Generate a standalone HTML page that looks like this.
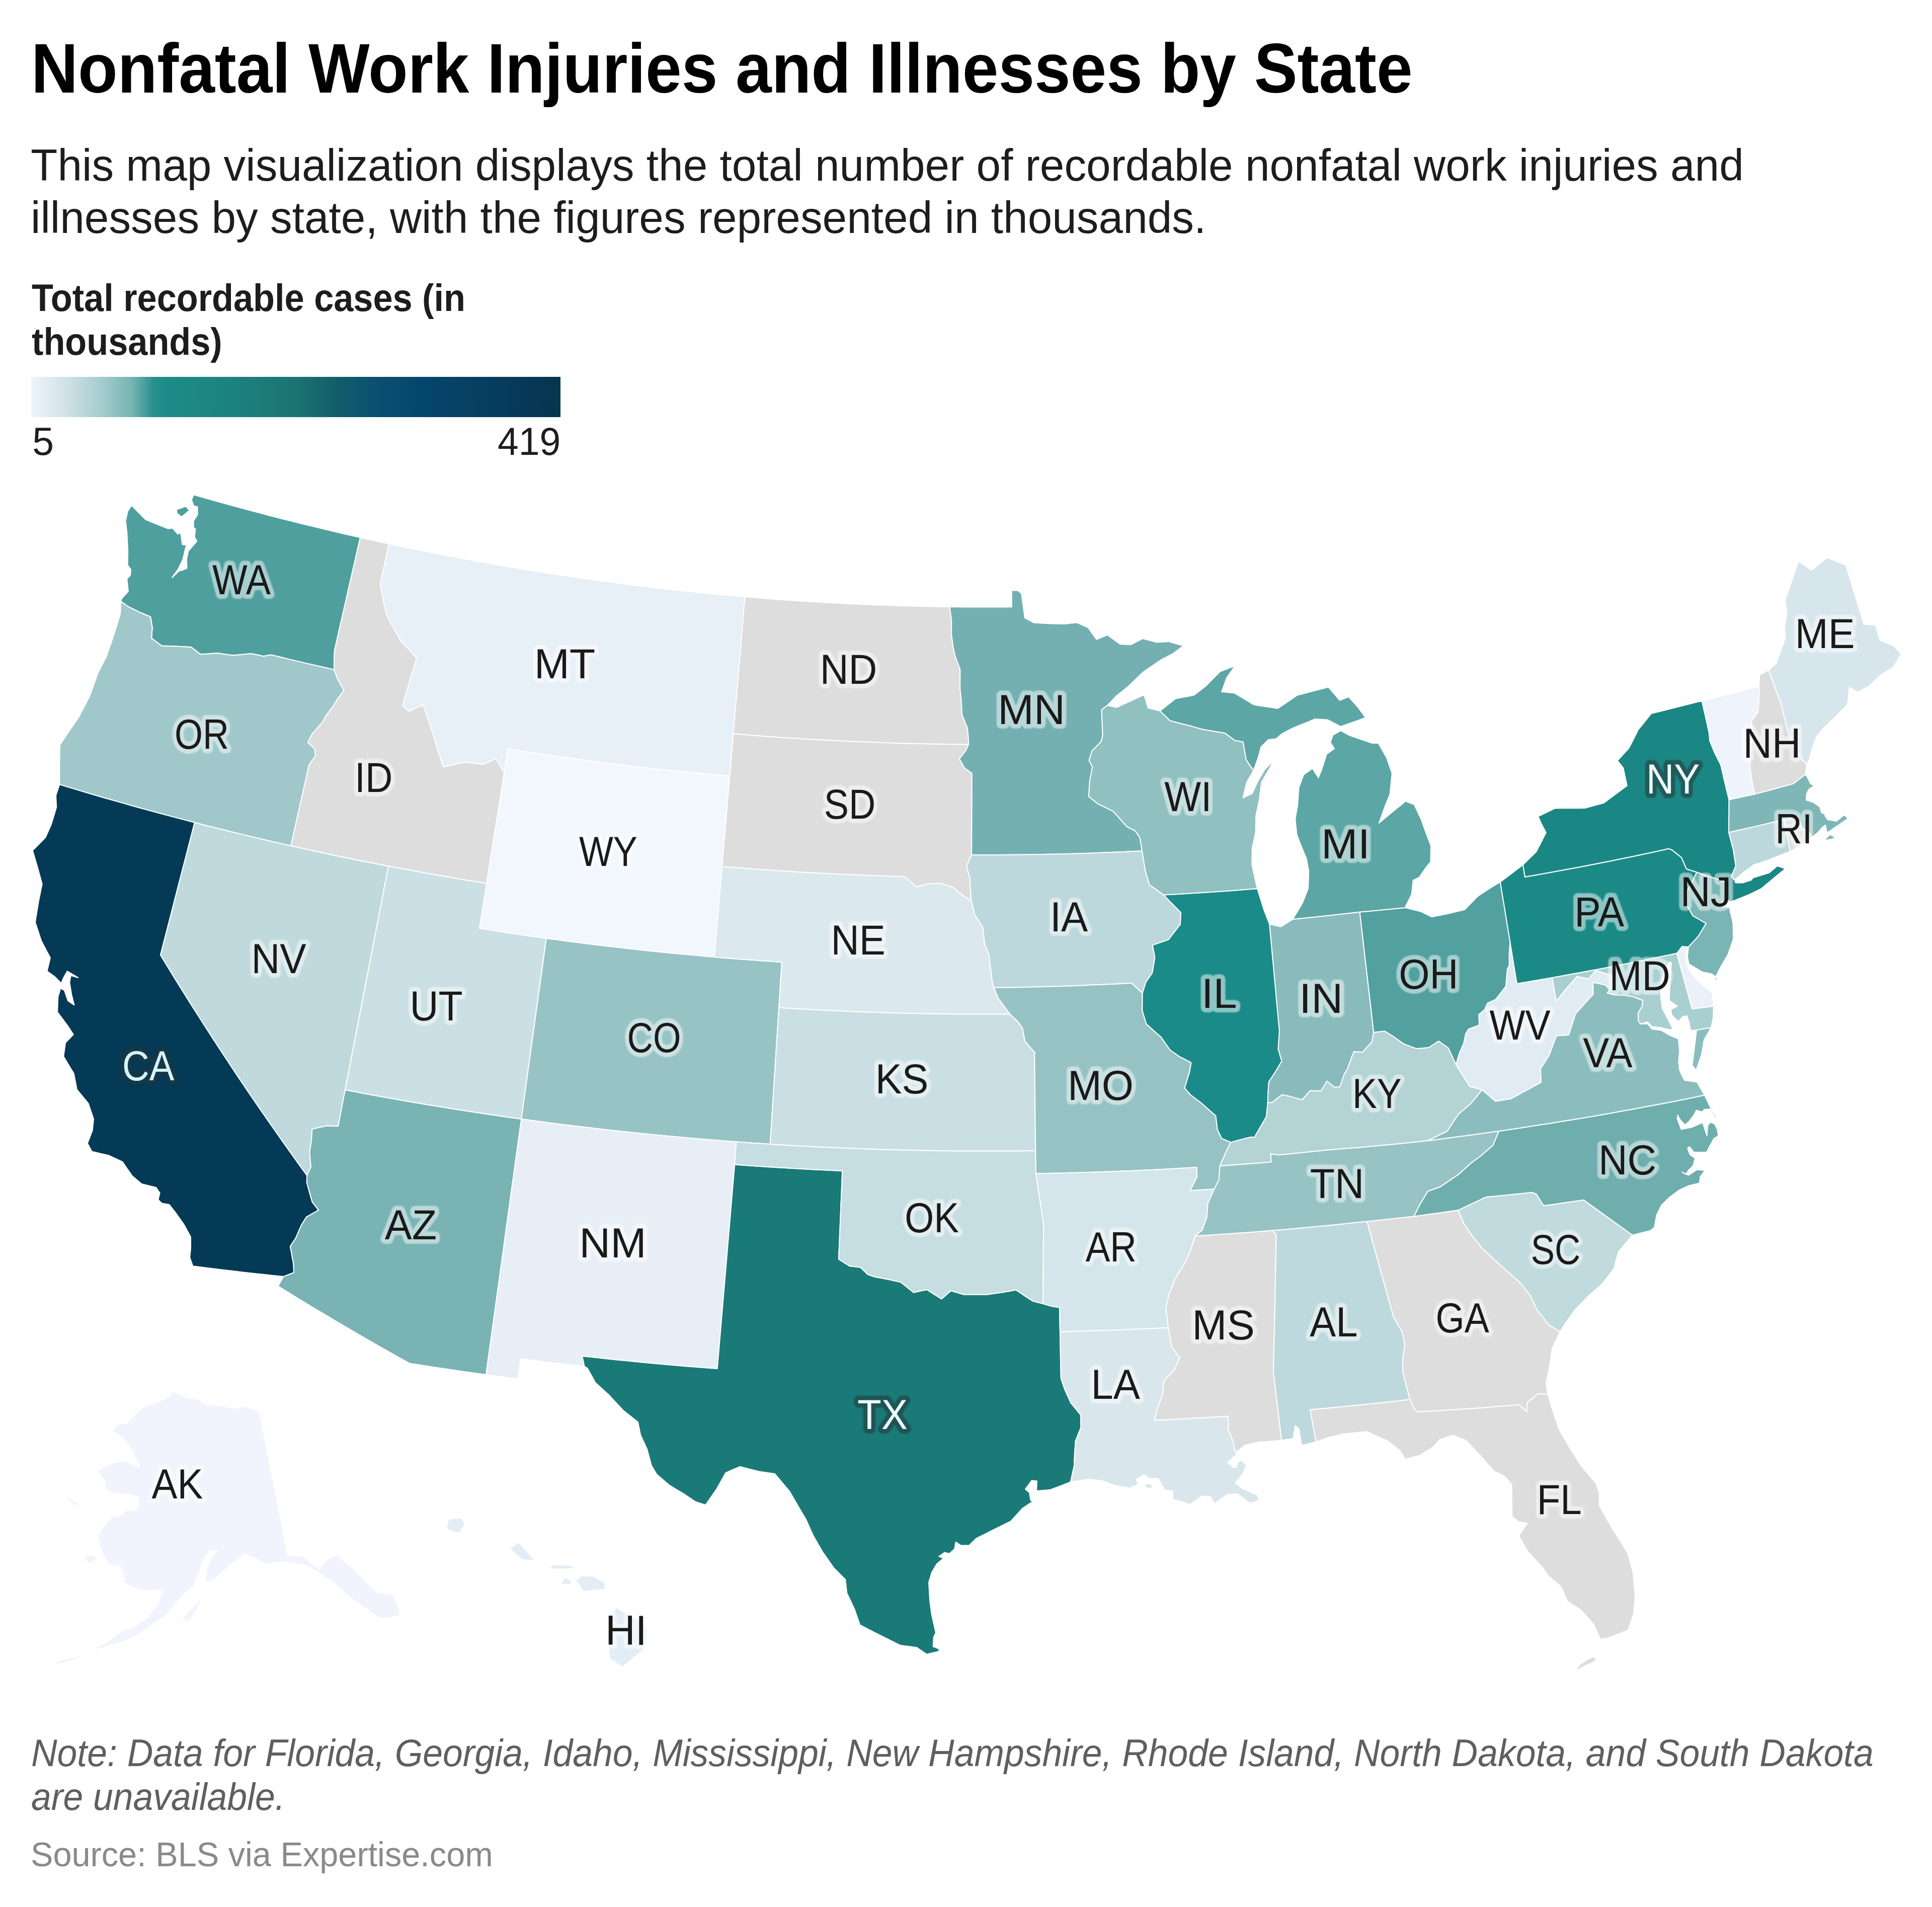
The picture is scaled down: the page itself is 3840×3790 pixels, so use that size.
<!DOCTYPE html>
<html><head><meta charset="utf-8"><title>Nonfatal Work Injuries and Illnesses by State</title>
<style>
html,body{margin:0;padding:0;background:#fff;}
body{width:3840px;height:3790px;position:relative;overflow:hidden;font-family:"Liberation Sans",Arial,sans-serif;}
.t{position:absolute;white-space:nowrap;transform-origin:0 0;}
#title{left:61.6px;top:67.4px;font-weight:bold;font-size:139.6px;color:#000;line-height:1;transform:scaleX(0.9225);}
#desc{left:61.4px;top:275.5px;font-size:89px;color:#1d1d1d;line-height:104.8px;transform:scaleX(0.9818);}
#ltitle{left:62.5px;top:548.7px;font-weight:bold;font-size:75.4px;color:#1d1d1d;line-height:87px;transform:scaleX(0.9323);}
#bar{position:absolute;left:62px;top:749px;width:1052px;height:80px;
 background:linear-gradient(90deg,#eff3fd 0%,#d2e4e9 6%,#a7cdce 13%,#75b5b3 19%,#2a918d 23%,#1d8c88 25%,#1d8480 36%,#1b7471 50%,#135f6b 57%,#0b5070 65%,#05466c 74%,#063e60 86%,#06344f 100%);}
#l5{left:64.3px;top:839px;font-size:77px;color:#1d1d1d;line-height:1;}
#l419{left:988.8px;top:839px;font-size:77px;color:#1d1d1d;line-height:1;transform:scaleX(0.975);}
#note{left:62.2px;top:3441.2px;font-style:italic;font-size:76.1px;color:#5f5f5f;line-height:86.5px;transform:scaleX(0.939);}
#source{left:61.4px;top:3650.7px;font-size:69px;color:#8a8a8a;line-height:1;transform:scaleX(0.966);}
svg{position:absolute;left:0;top:0;}
svg text{font-family:"Liberation Sans",Arial,sans-serif;font-size:83px;text-anchor:middle;}
.halo text{stroke-width:18px;stroke-linejoin:round;}
</style></head><body>
<div class="t" id="title">Nonfatal Work Injuries and Illnesses by State</div>
<div class="t" id="desc">This map visualization displays the total number of recordable nonfatal work injuries and<br>illnesses by state, with the figures represented in thousands.</div>
<div class="t" id="ltitle">Total recordable cases (in<br>thousands)</div>
<div id="bar"></div>
<div class="t" id="l5">5</div>
<div class="t" id="l419">419</div>
<svg width="3840" height="3790" viewBox="0 0 3840 3790">
<g stroke="#fff" stroke-width="2" stroke-linejoin="round">
<path fill="#f1f4fd" d="M515.1,2803.8 511.8,2802.8 508.5,2801.9 505.2,2800.9 501.9,2800 498.6,2799 495.4,2798 492.1,2797 488.9,2795.9 485.6,2794.9 482.5,2795.7 479.3,2796.5 476.1,2797.3 472.9,2798.1 469.7,2798.8 466.3,2798.3 463,2797.8 459.6,2797.3 456.3,2796.8 452.9,2796.2 449.6,2795.7 446.3,2795.1 443,2794.5 439.7,2793.9 436.3,2793.3 433.3,2793 430.3,2792.8 427.3,2792.5 424.3,2792.2 421.3,2791.9 418.3,2791.6 415.2,2791.3 412.2,2790.9 409.2,2790.6 405.9,2788.6 402.6,2786.6 399.4,2784.6 396.1,2782.5 392.9,2780.5 389.9,2780.1 386.8,2779.8 383.8,2779.4 380.8,2779 377.8,2778.6 374.8,2778.2 371.8,2777.7 368.8,2776.4 365.8,2775 362.8,2773.6 359.8,2772.2 356.8,2770.7 353.8,2769.3 350.9,2767.9 348,2766.4 345,2764.9 342,2767.9 339,2770.8 335.9,2773.7 332.8,2776.6 329.7,2779.5 326.6,2780.9 323.5,2782.2 320.3,2783.5 317.2,2784.8 314,2786.1 310.9,2787.4 307.7,2788.7 304.5,2789.7 301.4,2790.7 298.2,2791.7 295,2792.7 291.8,2793.7 288.5,2794.7 285.3,2795.6 282.3,2798 279.2,2800.3 276.2,2802.6 273.1,2804.9 269.1,2809.7 265,2814.4 260.9,2819.2 256.8,2823.9 252.6,2828.5 249.3,2828.8 246,2829 242.7,2829.2 239.3,2829.5 236,2829.6 232.7,2829.8 229.5,2834.5 226.2,2839.2 222.9,2843.8 225.6,2845.7 228.4,2847.6 231.1,2849.4 233.8,2851.3 236.6,2853.1 239.3,2855 242.1,2856.8 245.2,2860 248.3,2863.3 251.4,2866.6 254.6,2869.8 257,2874.6 259.5,2879.3 262.1,2884.1 264.6,2888.9 267.2,2893.6 269.7,2898.7 272.2,2903.7 274.7,2909.5 277.2,2915.3 273.8,2914 270.5,2912.6 267.2,2911.2 263.9,2909.8 260.6,2908.3 257.3,2906.9 254,2905.5 250.7,2904 247.4,2904 244,2904 240.6,2904 236.6,2905 232.6,2905.9 228.6,2906.8 224.6,2907.7 220.6,2908.6 216.5,2910.8 212.4,2912.9 208.3,2915.1 204.1,2917.3 199.9,2919.4 195.7,2921.5 191.5,2923.6 194.7,2927.1 198,2930.7 201.3,2934.2 204.6,2937.8 207.9,2941.3 208.9,2947.9 210,2954.5 211,2961.1 214.8,2962.9 218.6,2964.8 222.4,2966.7 226.2,2968.5 229.7,2968.6 233.2,2968.7 236.7,2968.8 240.2,2968.9 243.7,2968.9 247.2,2969 250.7,2969 254.1,2969.9 257.5,2970.8 260.9,2971.7 264.3,2972.5 267.7,2973.4 271.1,2974.2 274.5,2975.1 275.1,2982.3 275.7,2989.4 273,2995.5 270.2,3001.5 266.6,3001.4 262.9,3001.3 259.3,3001.2 255.7,3001.1 252,3000.9 248.4,3004 244.8,3007.1 241.2,3010.2 237.5,3013.2 233.9,3013.5 230.3,3013.8 226.7,3014 223,3014.2 218.3,3019.3 213.6,3024.4 208.9,3029.4 204.2,3036.6 199.4,3043.8 194.6,3050.9 195.7,3058.6 196.9,3066.3 198.1,3074 200.8,3080.9 203.5,3087.7 206.5,3093 209.6,3098.3 212.7,3103.6 215.9,3108.9 220.5,3109.9 225.1,3110.9 229.7,3111.8 234.3,3112.8 238.9,3113.7 241.9,3121.2 245,3128.7 245.6,3136.8 246.3,3144.8 250.2,3147.2 254.2,3149.5 258.2,3151.8 262.2,3154.2 266.2,3156.5 271,3157.6 275.8,3158.6 280.6,3159.7 285.5,3160.7 290.3,3161.7 294.4,3161.2 298.5,3160.7 302.7,3160.2 306.8,3159.7 310.8,3159.9 314.9,3160.1 319,3160.3 323,3160.5 320.6,3167.5 318.3,3174.5 315.8,3181.5 313.4,3188.5 308.9,3194.5 304.3,3200.6 299.7,3206.6 295,3212.6 289.6,3216.7 284.1,3220.7 278.6,3224.7 273.1,3228.6 267.5,3232.5 262.1,3234.6 256.6,3236.6 251.1,3238.5 245.6,3240.5 240.1,3242.4 234.3,3246.8 228.4,3251.2 222.5,3255.5 216.5,3259.8 210.5,3264.1 204.9,3267 199.4,3269.9 193.7,3272.8 188.1,3275.6 182.4,3278.4 176.7,3281.2 182.2,3280 187.6,3278.7 193,3277.4 198.4,3276.1 203.8,3274.8 209.2,3273.4 214.6,3271.9 220.1,3270.3 225.4,3268.7 230.8,3267.1 236.2,3265.5 241.5,3263.8 246.9,3262.1 252.5,3259.5 258.1,3256.9 263.7,3254.3 269.3,3251.7 274.9,3249 280.5,3245 286.1,3241 291.6,3237 297.1,3232.9 302.6,3228.9 308,3225.4 313.4,3221.9 318.7,3218.4 324,3214.8 329.2,3211.3 333.7,3205.9 338.1,3200.5 342.4,3195.1 346.8,3189.7 351.2,3184.8 355.6,3179.8 360,3174.8 364.3,3169.8 368.6,3164.8 372.6,3161.6 376.7,3158.5 380.7,3155.3 384.7,3152.1 388.4,3143.6 391.9,3135.2 395.4,3126.7 397.9,3119.2 400.3,3111.8 402.6,3104.4 406.3,3098.7 409.9,3093.1 413.5,3087.4 417.1,3081.7 420.8,3081.6 424.6,3081.4 428.4,3081.2 432.1,3080.9 428.6,3085.1 425,3089.3 421.4,3093.4 417.8,3097.5 415.5,3105 413.3,3112.4 410.9,3119.9 409.7,3128.4 408.4,3136.8 407.1,3145.3 411.2,3143.9 415.3,3142.4 419.4,3141 423.5,3139.6 427.6,3138.1 431.4,3134.7 435.2,3131.3 438.9,3127.9 442.6,3124.5 446.3,3121.1 450,3117.7 453.7,3114.2 457.3,3110.8 461,3108.1 464.6,3105.4 468.3,3102.7 471.9,3099.9 475.5,3097.2 479,3094.5 482.6,3091.7 486.1,3088.9 491,3090.9 495.9,3092.9 500.7,3094.8 505.6,3096.7 510.6,3098.6 514.8,3101.2 519.1,3103.8 523.4,3106.3 527.8,3108.9 532.2,3108.2 536.6,3107.5 541,3106.8 545.4,3106 549.8,3105.3 554.3,3104.5 558.7,3103.7 563.6,3104.4 568.5,3105.1 573.4,3105.7 578.3,3106.3 583.3,3106.9 587.4,3107.3 591.5,3107.6 595.6,3108 599.7,3108.3 605.2,3110.9 610.7,3113.5 616.3,3116.1 621.8,3118.7 627.4,3121.2 633.5,3125.6 639.6,3129.9 645.8,3134.2 652,3138.4 658.2,3142.6 663.9,3147.6 669.6,3152.6 675.3,3157.5 681.1,3162.4 686.9,3167.3 692.8,3172.1 698.7,3177 704.7,3181.7 710.4,3185.7 716.2,3189.7 722,3193.7 727.9,3197.6 734,3202.2 740.2,3206.8 746.4,3211.4 752.7,3216 757.4,3216 762.2,3216 767,3216 771.8,3216 777.2,3214.9 782.6,3213.8 788,3212.7 793.3,3211.6 794.2,3206.2 795.1,3200.8 791.6,3192.9 788.2,3185 784.7,3177 781.2,3169.1 775.7,3168.4 770.1,3167.6 764.6,3166.8 759.1,3166 753.6,3165.2 748.1,3164.3 740.7,3156.9 733.3,3149.4 726,3141.9 718.8,3134.3 711.7,3126.7 704.6,3119.1 698.5,3114.4 692.5,3109.7 686.5,3104.9 680.5,3100.1 674.6,3095.3 668.8,3090.5 664.4,3092.4 660,3094.3 655.6,3096.2 651.2,3098.1 646.7,3100 643.9,3104.8 641,3109.6 638.2,3114.5 635.2,3119.3 629,3114.3 622.8,3109.4 616.7,3104.3 610.7,3099.3 605.8,3095.6 600.9,3091.8 596.8,3091.8 592.7,3091.8 588.6,3091.8 584.5,3091.7 580.4,3091.7 576.3,3091.6 572.2,3091.5 570.4,3082.4 568.6,3073.4 566.8,3064.4 565,3055.3 563.2,3046.3 561.4,3037.2 559.6,3028.2 557.9,3019.2 556.1,3010.1 554.3,3001.1 552.5,2992.1 550.7,2983 548.9,2974 547.1,2965 545.3,2956 543.5,2947 541.8,2938 540,2929 538.2,2920 536.4,2911 534.6,2902 532.8,2893 531.1,2884.1 529.3,2875.1 527.5,2866.1 525.7,2857.2 524,2848.3 522.2,2839.3 520.4,2830.4 518.7,2821.5 516.9,2812.6 515.1,2803.8ZM401.4,3173.8 397.7,3178.1 393.9,3182.4 390.1,3186.7 385.6,3191.5 381.1,3196.3 376.5,3201 371.8,3205.8 367.8,3210 363.9,3214.1 359.8,3218.3 365,3219.4 370.1,3220.5 375.2,3221.5 379.5,3216 383.7,3210.4 387.9,3204.9 392,3199.3 395.2,3190.8 398.4,3182.3 401.4,3173.8ZM176.7,3281.2 171.5,3283.6 166.3,3285.9 161,3288.2 155.8,3290.4 150.5,3292.6 144.5,3294.1 138.6,3295.5 132.6,3296.9 126.6,3298.3 120.6,3299.6 115.2,3301.7 109.8,3303.7 104.3,3305.8 98.8,3307.8 93.3,3309.8 98.6,3309 103.8,3308.2 109,3307.4 114.2,3306.6 119.4,3305.8 125.4,3304.4 131.4,3303.1 137.4,3301.7 143.4,3300.3 149.3,3298.8 154.9,3295.3 160.4,3291.9 165.9,3288.3 171.3,3284.8 176.7,3281.2ZM193.8,3098.9 190.6,3096.2 187.4,3093.4 184.2,3090.7 180.3,3091.3 176.4,3091.8 172.5,3092.3 168.6,3092.9 164.7,3093.4 167.5,3097.1 170.4,3100.9 173.2,3104.7 176.1,3108.5 180.5,3106.1 185,3103.7 189.4,3101.3 193.8,3098.9ZM164.3,2996.5 160.7,2993.2 157.2,2990 153.6,2986.7 150.1,2983.4 146.8,2981.7 143.5,2979.9 140.3,2978.2 137,2976.4 133.8,2974.6 130.6,2972.8 127.4,2971 130.2,2974.4 133.1,2977.8 135.9,2981.1 138.8,2984.5 141.7,2987.8 145.5,2989.3 149.2,2990.8 153,2992.2 156.8,2993.7 160.6,2995.1 164.3,2996.5Z"/>
<path fill="#e3edf5" d="M1287.7,3240.1 1283.6,3259.4 1279.5,3278.7 1258.3,3295.8 1237.2,3313 1224.4,3305 1211.6,3297 1209.4,3274.6 1207.2,3252.2 1211.3,3232 1215.5,3211.9 1223.8,3194 1247.2,3207.3 1270.6,3220.5 1287.7,3240.1ZM1202.6,3158.3 1181.4,3160.6 1160.3,3162.9 1143.4,3140.6 1156,3131.7 1177.1,3131.6 1189.8,3138.3 1202.5,3144.9 1202.6,3158.3ZM1139.2,3118.3 1116,3118.3 1092.8,3118.3 1097,3109.4 1118.1,3110.3 1139.1,3111.2 1139.2,3118.3ZM1063.3,3100.4 1038,3100.3 1025.5,3089.1 1012.9,3077.9 1029.8,3064.6 1050.7,3087 1063.3,3100.4ZM925,3028.3 912.2,3047.8 899.6,3043.2 887.1,3038.6 891.5,3019.1 916.7,3016.7 925,3028.3ZM1135,3149.5 1113.9,3149.5 1122.3,3134.4 1135,3140.6 1135,3149.5Z"/>
<path fill="#509f9f" d="M385,983.2 401.4,988 417.8,992.6 434.3,997.3 450.7,1001.8 467.2,1006.4 483.7,1010.8 500.2,1015.3 516.8,1019.6 533.3,1024 549.8,1028.2 566.4,1032.5 583,1036.6 599.5,1040.8 616.1,1044.9 632.8,1048.9 649.4,1052.9 666,1056.8 682.7,1060.7 699.3,1064.5 716,1068.3 710.3,1093.1 704.7,1117.9 699,1142.8 693.3,1167.7 687.7,1192.6 682,1217.5 676.3,1242.5 670.6,1267.5 664.9,1292.5 664.2,1312.5 663.9,1330.9 646,1326.8 628.1,1322.7 610.2,1318.6 592.3,1314.4 574.4,1310.1 556.5,1305.8 538.7,1301.4 523.8,1304.2 511.6,1301.6 499.3,1299 481.1,1300.8 462.9,1302.6 447.3,1300.3 431.6,1298.1 415.1,1299.2 398.5,1300.4 389.1,1293.1 379.7,1285.9 365.3,1285.2 350.8,1284.4 336.2,1284 321.6,1283.6 311.4,1276 301.2,1268.4 302.7,1247.4 299.2,1225.8 287.6,1221 276.1,1216.2 264.8,1210.5 253.5,1204.8 240.1,1195.1 241.8,1189.7 254.9,1175.3 252.3,1150.4 258.8,1143.8 260.1,1132 253.6,1122.9 254.2,1095.3 253.2,1076.9 252.3,1058.6 249.7,1035 253.6,1016.7 261.5,1004.2 275.2,1018.3 289,1032.4 300.1,1037 311.3,1041.6 323,1046.2 334.8,1050.8 342.7,1049.5 353.2,1061.3 359.1,1058.6 362.4,1082.2 370.9,1083.5 368.5,1090 363.7,1111.1 354.5,1130.7 342.1,1147.8 355.8,1134.7 363.7,1132.7 371.5,1129.4 370.9,1111.1 374.2,1095.3 391.2,1075.7 386.6,1066.5 388.6,1051.4 384.7,1048.2 384.7,1035 392.5,1023.3 392.5,1007.5 384.7,1004.9 380.7,993.1 385,983.2ZM350.6,1012.8 368.9,1006.2 376.8,1014.1 361.1,1027.2 351.9,1020.6 350.6,1012.8Z"/>
<path fill="#a0c8ca" d="M240.1,1195.1 253.5,1204.8 264.8,1210.5 276.1,1216.2 287.6,1221 299.2,1225.8 302.7,1247.4 301.2,1268.4 311.4,1276 321.6,1283.6 336.2,1284 350.8,1284.4 365.3,1285.2 379.7,1285.9 389.1,1293.1 398.5,1300.4 415.1,1299.2 431.6,1298.1 447.3,1300.3 462.9,1302.6 481.1,1300.8 499.3,1299 511.6,1301.6 523.8,1304.2 538.7,1301.4 556.5,1305.8 574.4,1310.1 592.3,1314.4 610.2,1318.6 628.1,1322.7 646,1326.8 663.9,1330.9 670.4,1347.9 683.7,1372 671.9,1387.8 661.8,1404 648.1,1422.1 640.4,1436 620.2,1459.2 611.8,1475.7 625.5,1488.1 626.9,1502.2 614.2,1520.6 609.1,1543.5 603.9,1566.4 598.8,1589.3 593.6,1612.2 588.5,1635.1 583.3,1658 578.1,1681 559,1676.6 539.8,1672.2 520.6,1667.7 501.5,1663.2 482.3,1658.6 463.2,1654 444.1,1649.3 425,1644.5 405.9,1639.7 386.9,1634.8 368.9,1630.1 350.9,1625.4 332.9,1620.6 314.9,1615.8 297,1610.9 279.1,1606 261.2,1601 243.3,1595.9 225.4,1590.8 207.5,1585.7 189.6,1580.5 171.8,1575.2 154,1569.9 136.2,1564.6 118.4,1559.1 118.4,1535.5 118.4,1511.9 118.8,1495.9 119.3,1480 128.8,1465.9 138.3,1451.8 147.6,1438.2 156.9,1424.5 167.5,1404.2 178.1,1383.8 186.5,1360.5 194.9,1337.2 203.2,1320.9 211.5,1304.6 219.6,1281.2 227.6,1257.9 233.5,1238.5 239.3,1219.2 240.1,1195.1Z"/>
<path fill="#043a55" d="M118.4,1559.1 136.2,1564.6 154,1569.9 171.8,1575.2 189.6,1580.5 207.5,1585.7 225.4,1590.8 243.3,1595.9 261.2,1601 279.1,1606 297,1610.9 314.9,1615.8 332.9,1620.6 350.9,1625.4 368.9,1630.1 386.9,1634.8 380.1,1661.1 373.3,1687.4 366.5,1713.7 359.7,1740 352.9,1766.3 346.1,1792.6 339.4,1818.9 332.6,1845.2 325.8,1871.6 319,1897.9 334,1922.5 349.1,1947.2 364.4,1971.7 379.8,1996.3 395.4,2020.8 411.1,2045.3 426.9,2069.7 442.9,2094.2 459,2118.5 475.2,2142.9 491.6,2167.2 508.1,2191.4 524.8,2215.6 541.6,2239.8 558.5,2264 575.6,2288 592.8,2312.1 610.2,2336.1 609.7,2349.8 615.1,2369.4 620.7,2388.9 633.2,2405.2 608.8,2418.9 598.8,2435.3 587.7,2460.8 576.9,2477.1 580.2,2494.8 583.5,2512.5 584.1,2529.2 563.4,2537.1 543.4,2535 523.3,2532.8 503.3,2530.7 483.3,2528.4 463.3,2526.1 443.3,2523.7 423.3,2521.3 403.3,2518.8 383.3,2516.3 377.2,2499.2 379,2481 378.9,2457.9 365.4,2433.4 356.7,2421.2 348.2,2409 336.4,2394.1 321.8,2391.6 314.4,2384.2 317.6,2371 310.3,2360 296,2356.5 281.6,2353 262.8,2337.1 253,2323 243.3,2308.9 229.7,2302.6 216.2,2296.3 199.3,2292.4 182.5,2288.5 173.9,2272.2 183.7,2246.7 186,2223.9 180.7,2208.4 175.5,2192.9 164.2,2179.1 152.9,2165.3 149.8,2149.4 146.7,2133.5 136.4,2116.5 126.3,2099.6 128.2,2086 130.1,2072.4 145.8,2056.1 135.5,2040.1 124.8,2025.7 114.1,2011.4 114.7,1996.5 115.3,1981.5 120.3,1964.1 127.9,1968.2 135.2,1989.1 147.5,1997.3 142.3,1977 138.3,1952.3 140.7,1938.8 155.5,1943 144.6,1936.6 133.6,1930.2 126,1944.1 121.7,1954.1 108.7,1941 93.6,1930 99.9,1903.5 91,1886.7 82.2,1869.9 76.1,1851.5 70,1833.1 73.2,1812.8 76.5,1792.5 80.1,1774.6 83.7,1756.8 79.4,1741.3 75.2,1725.8 70,1708.1 64.8,1690.4 77.7,1677.3 90.5,1664.2 96.1,1651.7 101.6,1639.2 106.9,1621.9 112.2,1604.5 111.1,1580.6 118.4,1559.1Z"/>
<path fill="#bfd9dd" d="M386.9,1634.8 405.9,1639.7 425,1644.5 444.1,1649.3 463.2,1654 482.3,1658.6 501.5,1663.2 520.6,1667.7 539.8,1672.2 559,1676.6 578.1,1681 597.5,1685.3 616.8,1689.6 636.2,1693.7 655.6,1697.9 675,1702 694.4,1706 713.8,1709.9 733.2,1713.8 752.6,1717.6 772.1,1721.4 767,1747.5 762,1773.7 756.9,1799.8 751.8,1825.9 746.8,1852.1 741.7,1878.3 736.6,1904.4 731.6,1930.6 726.5,1956.8 721.4,1982.9 716.4,2009.1 711.3,2035.3 706.2,2061.5 701.1,2087.7 696.1,2113.8 691,2140 685.9,2166.2 681.3,2190.2 676.7,2214.3 672,2238.3 660.4,2237.9 648.8,2237.5 634.6,2240.7 620.4,2243.9 619.3,2264 615.4,2291 618,2319.2 610.2,2336.1 592.8,2312.1 575.6,2288 558.5,2264 541.6,2239.8 524.8,2215.6 508.1,2191.4 491.6,2167.2 475.2,2142.9 459,2118.5 442.9,2094.2 426.9,2069.7 411.1,2045.3 395.4,2020.8 379.8,1996.3 364.4,1971.7 349.1,1947.2 334,1922.5 319,1897.9 325.8,1871.6 332.6,1845.2 339.4,1818.9 346.1,1792.6 352.9,1766.3 359.7,1740 366.5,1713.7 373.3,1687.4 380.1,1661.1 386.9,1634.8Z"/>
<path fill="#dddddd" d="M716,1068.3 730.2,1071.4 744.5,1074.6 758.8,1077.7 773.1,1080.8 768.8,1101 764.4,1121.2 760.1,1141.4 755.8,1161.6 759.8,1181.6 763.8,1201.6 767.9,1221.6 777.1,1238.4 786.4,1255.2 795.7,1272 806.5,1283.9 817.4,1295.8 828.3,1307.7 820.8,1332.7 813.4,1357.7 805.9,1382.7 800.6,1402.8 813.3,1413.5 827,1407 840.8,1400.5 848.2,1422 855.7,1443.5 864.1,1470.4 872.5,1497.2 881,1524.1 895.7,1520.9 910.3,1517.7 924.9,1514.5 943.3,1516.7 961.7,1518.9 973.7,1513.1 985.6,1507.4 993.9,1521.5 1002.3,1535.6 998.5,1560 994.6,1584.4 990.7,1608.9 986.7,1633.3 982.8,1657.8 978.9,1682.2 975,1706.7 971.1,1731.2 967.2,1755.7 947.6,1752.6 928.1,1749.4 908.6,1746.1 889,1742.7 869.5,1739.3 850,1735.9 830.5,1732.3 811,1728.8 791.5,1725.1 772.1,1721.4 752.6,1717.6 733.2,1713.8 713.8,1709.9 694.4,1706 675,1702 655.6,1697.9 636.2,1693.7 616.8,1689.6 597.5,1685.3 578.1,1681 583.3,1658 588.5,1635.1 593.6,1612.2 598.8,1589.3 603.9,1566.4 609.1,1543.5 614.2,1520.6 626.9,1502.2 625.5,1488.1 611.8,1475.7 620.2,1459.2 640.4,1436 648.1,1422.1 661.8,1404 671.9,1387.8 683.7,1372 670.4,1347.9 663.9,1330.9 664.2,1312.5 664.9,1292.5 670.6,1267.5 676.3,1242.5 682,1217.5 687.7,1192.6 693.3,1167.7 699,1142.8 704.7,1117.9 710.3,1093.1 716,1068.3Z"/>
<path fill="#e7eff7" d="M773.1,1080.8 790.6,1084.5 808.1,1088.2 825.6,1091.8 843.2,1095.3 860.7,1098.8 878.3,1102.3 895.8,1105.7 913.4,1109 931,1112.3 948.6,1115.5 966.2,1118.7 983.9,1121.8 1001.5,1124.8 1019.1,1127.8 1036.8,1130.8 1054.5,1133.7 1072.1,1136.5 1089.8,1139.3 1107.5,1142 1125.2,1144.6 1142.9,1147.3 1160.6,1149.8 1178.3,1152.3 1196,1154.7 1213.8,1157.1 1231.5,1159.5 1249.3,1161.7 1267,1163.9 1284.8,1166.1 1302.6,1168.2 1320.4,1170.3 1338.1,1172.2 1355.9,1174.2 1373.7,1176.1 1391.5,1177.9 1409.3,1179.7 1427.1,1181.4 1445,1183 1462.8,1184.6 1480.6,1186.2 1478.5,1210.8 1476.4,1235.4 1474.3,1260 1472.3,1284.7 1470.2,1309.4 1468.1,1334.2 1466,1358.9 1463.8,1383.7 1461.7,1408.5 1459.6,1433.3 1457.5,1458.2 1455.7,1479.2 1454,1500.2 1452.2,1521.2 1450.4,1542.3 1432,1540.7 1413.5,1539.1 1395.1,1537.3 1376.7,1535.6 1358.3,1533.8 1339.9,1531.9 1321.5,1530 1303.1,1528 1284.7,1525.9 1266.4,1523.8 1248,1521.7 1229.6,1519.5 1211.3,1517.2 1192.9,1514.9 1174.6,1512.5 1156.3,1510 1137.9,1507.5 1119.6,1505 1101.3,1502.4 1083,1499.7 1064.7,1497 1046.4,1494.2 1028.1,1491.4 1009.9,1488.5 1006.1,1512 1002.3,1535.6 993.9,1521.5 985.6,1507.4 973.7,1513.1 961.7,1518.9 943.3,1516.7 924.9,1514.5 910.3,1517.7 895.7,1520.9 881,1524.1 872.5,1497.2 864.1,1470.4 855.7,1443.5 848.2,1422 840.8,1400.5 827,1407 813.3,1413.5 800.6,1402.8 805.9,1382.7 813.4,1357.7 820.8,1332.7 828.3,1307.7 817.4,1295.8 806.5,1283.9 795.7,1272 786.4,1255.2 777.1,1238.4 767.9,1221.6 763.8,1201.6 759.8,1181.6 755.8,1161.6 760.1,1141.4 764.4,1121.2 768.8,1101 773.1,1080.8Z"/>
<path fill="#f2f6fd" d="M1002.3,1535.6 1006.1,1512 1009.9,1488.5 1028.1,1491.4 1046.4,1494.2 1064.7,1497 1083,1499.7 1101.3,1502.4 1119.6,1505 1137.9,1507.5 1156.3,1510 1174.6,1512.5 1192.9,1514.9 1211.3,1517.2 1229.6,1519.5 1248,1521.7 1266.4,1523.8 1284.7,1525.9 1303.1,1528 1321.5,1530 1339.9,1531.9 1358.3,1533.8 1376.7,1535.6 1395.1,1537.3 1413.5,1539.1 1432,1540.7 1450.4,1542.3 1448.2,1567.9 1446,1593.5 1443.9,1619.2 1441.7,1644.8 1439.5,1670.5 1437.3,1696.2 1435.1,1721.9 1433,1747.6 1430.8,1773.3 1428.6,1799.1 1426.4,1824.8 1424.2,1850.6 1422,1876.3 1419.8,1902.1 1400.1,1900.4 1380.5,1898.6 1360.8,1896.8 1341.1,1894.9 1321.4,1893 1301.8,1891 1282.1,1888.9 1262.4,1886.8 1242.8,1884.6 1223.2,1882.3 1203.5,1880 1183.9,1877.7 1164.3,1875.2 1144.7,1872.7 1125.1,1870.2 1105.5,1867.6 1085.9,1864.9 1066.9,1862.2 1047.9,1859.5 1028.9,1856.7 1009.9,1853.9 990.9,1851 971.9,1848.1 952.9,1845.1 956.5,1822.7 960.1,1800.4 963.6,1778.1 967.2,1755.7 971.1,1731.2 975,1706.7 978.9,1682.2 982.8,1657.8 986.7,1633.3 990.7,1608.9 994.6,1584.4 998.5,1560 1002.3,1535.6Z"/>
<path fill="#cae0e4" d="M967.2,1755.7 947.6,1752.6 928.1,1749.4 908.6,1746.1 889,1742.7 869.5,1739.3 850,1735.9 830.5,1732.3 811,1728.8 791.5,1725.1 772.1,1721.4 767,1747.5 762,1773.7 756.9,1799.8 751.8,1825.9 746.8,1852.1 741.7,1878.3 736.6,1904.4 731.6,1930.6 726.5,1956.8 721.4,1982.9 716.4,2009.1 711.3,2035.3 706.2,2061.5 701.1,2087.7 696.1,2113.8 691,2140 685.9,2166.2 706.4,2170.1 727,2174 747.5,2177.8 768.1,2181.5 788.6,2185.1 809.2,2188.7 829.8,2192.3 850.4,2195.7 871,2199.1 891.6,2202.5 912.3,2205.7 932.9,2209 953.6,2212.1 974.2,2215.2 994.9,2218.2 1015.6,2221.2 1036.3,2224 1039.8,2198.4 1043.3,2172.7 1046.9,2147.1 1050.4,2121.4 1054,2095.7 1057.5,2070.1 1061.1,2044.4 1064.6,2018.7 1068.2,1993.1 1071.7,1967.4 1075.3,1941.8 1078.8,1916.1 1082.3,1890.5 1085.9,1864.9 1066.9,1862.2 1047.9,1859.5 1028.9,1856.7 1009.9,1853.9 990.9,1851 971.9,1848.1 952.9,1845.1 956.5,1822.7 960.1,1800.4 963.6,1778.1 967.2,1755.7Z"/>
<path fill="#97c3c5" d="M1419.8,1902.1 1400.1,1900.4 1380.5,1898.6 1360.8,1896.8 1341.1,1894.9 1321.4,1893 1301.8,1891 1282.1,1888.9 1262.4,1886.8 1242.8,1884.6 1223.2,1882.3 1203.5,1880 1183.9,1877.7 1164.3,1875.2 1144.7,1872.7 1125.1,1870.2 1105.5,1867.6 1085.9,1864.9 1082.3,1890.5 1078.8,1916.1 1075.3,1941.8 1071.7,1967.4 1068.2,1993.1 1064.6,2018.7 1061.1,2044.4 1057.5,2070.1 1054,2095.7 1050.4,2121.4 1046.9,2147.1 1043.3,2172.7 1039.8,2198.4 1036.3,2224 1056.5,2226.8 1076.8,2229.5 1097.1,2232.2 1117.4,2234.8 1137.7,2237.3 1158,2239.7 1178.3,2242.1 1198.7,2244.5 1219,2246.8 1239.3,2249 1259.7,2251.1 1280.1,2253.2 1300.4,2255.3 1320.8,2257.2 1341.2,2259.1 1361.5,2261 1381.9,2262.8 1402.3,2264.5 1422.7,2266.1 1443.1,2267.7 1463.5,2269.3 1480.3,2270.5 1497.2,2271.7 1514,2272.8 1530.8,2273.9 1532.6,2246.8 1534.3,2219.6 1536,2192.5 1537.7,2165.3 1539.5,2138.2 1541.2,2111 1542.9,2083.9 1544.7,2056.7 1546.4,2029.6 1548.1,2002.5 1549.6,1979.9 1551,1957.3 1552.4,1934.7 1553.9,1912.1 1534.7,1910.8 1515.6,1909.5 1496.4,1908.1 1477.3,1906.7 1458.1,1905.2 1439,1903.7 1419.8,1902.1Z"/>
<path fill="#79b3b4" d="M1036.3,2224 1015.6,2221.2 994.9,2218.2 974.2,2215.2 953.6,2212.1 932.9,2209 912.3,2205.7 891.6,2202.5 871,2199.1 850.4,2195.7 829.8,2192.3 809.2,2188.7 788.6,2185.1 768.1,2181.5 747.5,2177.8 727,2174 706.4,2170.1 685.9,2166.2 681.3,2190.2 676.7,2214.3 672,2238.3 660.4,2237.9 648.8,2237.5 634.6,2240.7 620.4,2243.9 619.3,2264 615.4,2291 618,2319.2 610.2,2336.1 609.7,2349.8 615.1,2369.4 620.7,2388.9 633.2,2405.2 608.8,2418.9 598.8,2435.3 587.7,2460.8 576.9,2477.1 580.2,2494.8 583.5,2512.5 584.1,2529.2 563.4,2537.1 552.7,2556.1 572.4,2568.2 592.1,2580.3 611.9,2592.3 631.8,2604.3 651.7,2616.2 671.7,2628.1 691.8,2639.8 711.9,2651.6 732.1,2663.3 752.3,2674.9 772.6,2686.4 793,2697.9 813.4,2709.4 835.1,2712.8 856.9,2716.2 878.7,2719.5 900.6,2722.8 922.4,2726 944.2,2729.1 966.1,2732.1 969.7,2705.5 973.4,2678.8 977.1,2652.1 980.8,2625.5 984.5,2598.8 988.2,2572 991.9,2545.3 995.6,2518.6 999.3,2491.8 1002.9,2465.1 1006.6,2438.3 1010.3,2411.6 1014,2384.8 1017.7,2358 1021.4,2331.2 1025.1,2304.4 1028.8,2277.6 1032.6,2250.8 1036.3,2224Z"/>
<path fill="#e7eef6" d="M1463.5,2269.3 1443.1,2267.7 1422.7,2266.1 1402.3,2264.5 1381.9,2262.8 1361.5,2261 1341.2,2259.1 1320.8,2257.2 1300.4,2255.3 1280.1,2253.2 1259.7,2251.1 1239.3,2249 1219,2246.8 1198.7,2244.5 1178.3,2242.1 1158,2239.7 1137.7,2237.3 1117.4,2234.8 1097.1,2232.2 1076.8,2229.5 1056.5,2226.8 1036.3,2224 1032.6,2250.8 1028.8,2277.6 1025.1,2304.4 1021.4,2331.2 1017.7,2358 1014,2384.8 1010.3,2411.6 1006.6,2438.3 1002.9,2465.1 999.3,2491.8 995.6,2518.6 991.9,2545.3 988.2,2572 984.5,2598.8 980.8,2625.5 977.1,2652.1 973.4,2678.8 969.7,2705.5 966.1,2732.1 987.3,2735 1008.5,2737.9 1029.7,2740.6 1032.3,2720.5 1034.9,2700.4 1056,2703.1 1077.1,2705.7 1098.2,2708.3 1119.4,2710.8 1140.5,2713.3 1161.6,2715.6 1157.1,2695.2 1179.4,2697.6 1201.8,2700 1224.1,2702.4 1246.5,2704.6 1268.9,2706.8 1291.2,2708.9 1313.6,2711 1336,2713 1358.4,2714.9 1380.8,2716.7 1403.3,2718.5 1425.7,2720.2 1428,2693.2 1430.3,2666.2 1432.6,2639.2 1434.9,2612.2 1437.2,2585.2 1439.5,2558.2 1441.8,2531.1 1444.1,2504.1 1446.4,2477 1448.7,2449.9 1451,2422.9 1453.3,2395.8 1455.6,2368.7 1457.9,2341.6 1460.2,2314.5 1461.8,2291.9 1463.5,2269.3Z"/>
<path fill="#1a7a78" d="M1460.2,2314.5 1481.6,2316 1503,2317.5 1524.4,2318.9 1545.8,2320.3 1567.2,2321.5 1588.6,2322.7 1610,2323.9 1631.5,2325 1652.9,2326 1674.3,2326.9 1673.3,2352 1672.2,2377.1 1671.1,2402.2 1670.1,2427.3 1669,2452.4 1668,2477.4 1666.9,2502.5 1688.4,2516.1 1710.4,2518.7 1724.6,2532.8 1739.2,2537.8 1753.9,2540.5 1768.5,2543.2 1790.5,2548.3 1803.2,2558.5 1816,2568.7 1829,2565.8 1842,2562.9 1856.6,2572.2 1871.3,2581.4 1890,2565.3 1902.9,2569.1 1915.8,2572.8 1938,2572.9 1960.2,2572.9 1976.9,2570.6 1993.5,2568.3 2006.5,2566 2019.4,2563.6 2036.1,2574.8 2053,2585.9 2073.1,2591 2090.2,2596.1 2105.9,2598.6 2106.4,2622.5 2106.9,2646.5 2107.4,2669.7 2107.8,2693 2108.3,2716.2 2108.8,2739.4 2116.1,2760.9 2122.1,2774.3 2128.1,2787.7 2147.8,2811.6 2148.5,2836.8 2137.6,2864.1 2136.8,2877.6 2135.9,2891.1 2134.9,2913.7 2131.4,2929.5 2127.9,2945.3 2107.8,2953.1 2087.7,2960.8 2073.9,2962 2060,2963.1 2061.1,2943.5 2050.7,2942.3 2038,2959.6 2046.1,2966.5 2048.4,2981.5 2053,2983.8 2032.3,2997.7 2009.2,3023.1 1990.8,3032.3 1972.3,3041.5 1956.2,3049.6 1940,3057.7 1926.1,3071.5 1910,3071.5 1899.6,3064.6 1897.3,3078.4 1886.9,3087.7 1877.7,3085.4 1866.1,3093.4 1875.4,3096.9 1862,3108 1852,3125 1846,3145 1847,3162.5 1848,3180 1850,3195 1852,3210 1856,3227.5 1860,3245 1855.8,3253.8 1854.6,3272.2 1866.1,3276.9 1866.5,3282 1842,3287.8 1821.8,3274.2 1805.6,3272.1 1789.4,3270 1775.3,3263 1761.2,3255.9 1747.2,3248.9 1733.2,3241.8 1709.3,3229.5 1703.7,3213.7 1698.2,3197.9 1690.7,3182 1683.2,3166.1 1681.7,3152.6 1680.2,3139.1 1657.1,3115.9 1645.8,3099.8 1634.5,3083.6 1625.3,3067.5 1616.1,3051.4 1608.9,3035.4 1601.8,3019.4 1590.8,3000.9 1580,2982.4 1569.2,2963.8 1554.5,2946.4 1539.8,2928.9 1524.3,2926.7 1508.9,2924.4 1489.7,2919.6 1470.5,2914.8 1456.4,2921 1442.3,2927.2 1433.4,2943.3 1424.4,2959.3 1413.4,2975.1 1402.4,2991 1383.1,2985 1370,2976.3 1356.9,2967.6 1343.8,2959.8 1330.7,2951.9 1317.9,2940.9 1305.1,2929.9 1294.9,2912.7 1290.5,2896.5 1286.2,2880.4 1273.2,2852.1 1267.9,2826.2 1253.5,2814.9 1239.2,2803.6 1225.3,2788.6 1211.4,2773.6 1197.4,2760.8 1183.4,2748 1175.4,2733.5 1167.4,2719 1161.6,2715.6 1157.1,2695.2 1179.4,2697.6 1201.8,2700 1224.1,2702.4 1246.5,2704.6 1268.9,2706.8 1291.2,2708.9 1313.6,2711 1336,2713 1358.4,2714.9 1380.8,2716.7 1403.3,2718.5 1425.7,2720.2 1428,2693.2 1430.3,2666.2 1432.6,2639.2 1434.9,2612.2 1437.2,2585.2 1439.5,2558.2 1441.8,2531.1 1444.1,2504.1 1446.4,2477 1448.7,2449.9 1451,2422.9 1453.3,2395.8 1455.6,2368.7 1457.9,2341.6 1460.2,2314.5Z"/>
<path fill="#c6dde1" d="M1530.8,2273.9 1514,2272.8 1497.2,2271.7 1480.3,2270.5 1463.5,2269.3 1461.8,2291.9 1460.2,2314.5 1481.6,2316 1503,2317.5 1524.4,2318.9 1545.8,2320.3 1567.2,2321.5 1588.6,2322.7 1610,2323.9 1631.5,2325 1652.9,2326 1674.3,2326.9 1673.3,2352 1672.2,2377.1 1671.1,2402.2 1670.1,2427.3 1669,2452.4 1668,2477.4 1666.9,2502.5 1688.4,2516.1 1710.4,2518.7 1724.6,2532.8 1739.2,2537.8 1753.9,2540.5 1768.5,2543.2 1790.5,2548.3 1803.2,2558.5 1816,2568.7 1829,2565.8 1842,2562.9 1856.6,2572.2 1871.3,2581.4 1890,2565.3 1902.9,2569.1 1915.8,2572.8 1938,2572.9 1960.2,2572.9 1976.9,2570.6 1993.5,2568.3 2006.5,2566 2019.4,2563.6 2036.1,2574.8 2053,2585.9 2073.1,2591 2073.3,2564.6 2073.4,2538.2 2073.6,2511.8 2073.8,2485.4 2074,2459 2074.2,2432.6 2070.3,2407.5 2066.5,2382.4 2062.7,2357.3 2058.9,2332.2 2058.6,2309.5 2058.3,2286.9 2037.1,2287.1 2016,2287.4 1994.9,2287.5 1973.8,2287.6 1952.7,2287.6 1931.6,2287.5 1910.5,2287.4 1889.4,2287.2 1868.3,2287 1847.2,2286.6 1826.1,2286.2 1805,2285.8 1783.9,2285.3 1762.8,2284.7 1741.7,2284 1720.6,2283.3 1699.5,2282.5 1678.4,2281.7 1657.3,2280.8 1636.2,2279.8 1615.1,2278.8 1594,2277.6 1573,2276.5 1551.9,2275.2 1530.8,2273.9Z"/>
<path fill="#c9dfe3" d="M2007.3,2015.4 1987.3,2015.5 1967.3,2015.6 1947.4,2015.6 1927.4,2015.5 1907.4,2015.4 1887.4,2015.2 1867.5,2014.9 1847.5,2014.6 1827.5,2014.2 1807.5,2013.8 1787.6,2013.3 1767.6,2012.7 1747.6,2012.1 1727.7,2011.4 1707.7,2010.7 1687.8,2009.9 1667.8,2009 1647.8,2008.1 1627.9,2007.1 1607.9,2006 1588,2004.9 1568.1,2003.7 1548.1,2002.5 1546.4,2029.6 1544.7,2056.7 1542.9,2083.9 1541.2,2111 1539.5,2138.2 1537.7,2165.3 1536,2192.5 1534.3,2219.6 1532.6,2246.8 1530.8,2273.9 1551.9,2275.2 1573,2276.5 1594,2277.6 1615.1,2278.8 1636.2,2279.8 1657.3,2280.8 1678.4,2281.7 1699.5,2282.5 1720.6,2283.3 1741.7,2284 1762.8,2284.7 1783.9,2285.3 1805,2285.8 1826.1,2286.2 1847.2,2286.6 1868.3,2287 1889.4,2287.2 1910.5,2287.4 1931.6,2287.5 1952.7,2287.6 1973.8,2287.6 1994.9,2287.5 2016,2287.4 2037.1,2287.1 2058.3,2286.9 2058,2263.1 2057.7,2239.3 2057.5,2215.5 2057.2,2191.7 2057,2167.9 2056.7,2144.1 2056.4,2120.3 2056.2,2096.5 2056.8,2091.9 2037.2,2069.5 2034.7,2055.9 2032.1,2042.4 2021.7,2028.9 2007.3,2015.4Z"/>
<path fill="#dbe8ee" d="M1930.6,1790.1 1914.3,1780.1 1894.7,1763.7 1881.7,1759.4 1868.6,1755.2 1855.5,1755.9 1842.4,1756.6 1822.7,1762.5 1809.8,1752.3 1797,1742 1777.9,1741.5 1758.9,1740.9 1739.8,1740.2 1720.7,1739.5 1701.7,1738.8 1682.6,1737.9 1663.5,1737 1644.5,1736.1 1625.4,1735.1 1606.4,1734 1587.3,1732.9 1568.3,1731.8 1549.3,1730.5 1530.2,1729.2 1511.2,1727.9 1492.2,1726.5 1473.2,1725 1454.1,1723.5 1435.1,1721.9 1433,1747.6 1430.8,1773.3 1428.6,1799.1 1426.4,1824.8 1424.2,1850.6 1422,1876.3 1419.8,1902.1 1439,1903.7 1458.1,1905.2 1477.3,1906.7 1496.4,1908.1 1515.6,1909.5 1534.7,1910.8 1553.9,1912.1 1552.4,1934.7 1551,1957.3 1549.6,1979.9 1548.1,2002.5 1568.1,2003.7 1588,2004.9 1607.9,2006 1627.9,2007.1 1647.8,2008.1 1667.8,2009 1687.8,2009.9 1707.7,2010.7 1727.7,2011.4 1747.6,2012.1 1767.6,2012.7 1787.6,2013.3 1807.5,2013.8 1827.5,2014.2 1847.5,2014.6 1867.5,2014.9 1887.4,2015.2 1907.4,2015.4 1927.4,2015.5 1947.4,2015.6 1967.3,2015.6 1987.3,2015.5 2007.3,2015.4 1995.6,1999.6 1984,1983.8 1975.8,1963 1972.4,1952.2 1969,1925 1965.6,1897.8 1956.9,1875.2 1955.3,1859.4 1953.6,1843.6 1945.3,1830 1937.1,1816.4 1930.6,1790.1Z"/>
<path fill="#dddddd" d="M1457.5,1458.2 1476.2,1459.7 1494.9,1461.2 1513.5,1462.7 1532.2,1464.1 1550.9,1465.4 1569.6,1466.6 1588.3,1467.8 1607,1469 1625.7,1470.1 1644.4,1471.1 1663.1,1472.1 1681.8,1473 1700.5,1473.8 1719.2,1474.6 1738,1475.3 1756.7,1476 1775.4,1476.6 1794.1,1477.2 1812.9,1477.7 1831.6,1478.1 1850.3,1478.5 1869,1478.8 1887.8,1479 1906.5,1479.2 1925.2,1479.4 1919.5,1491.9 1906.8,1508 1917.4,1526.9 1931.8,1536.9 1931.7,1563.8 1931.6,1590.8 1931.5,1617.8 1931.3,1644.8 1931.2,1671.9 1931.1,1698.9 1921.2,1721.4 1927.6,1744.1 1928.8,1766.6 1930.6,1790.1 1914.3,1780.1 1894.7,1763.7 1881.7,1759.4 1868.6,1755.2 1855.5,1755.9 1842.4,1756.6 1822.7,1762.5 1809.8,1752.3 1797,1742 1777.9,1741.5 1758.9,1740.9 1739.8,1740.2 1720.7,1739.5 1701.7,1738.8 1682.6,1737.9 1663.5,1737 1644.5,1736.1 1625.4,1735.1 1606.4,1734 1587.3,1732.9 1568.3,1731.8 1549.3,1730.5 1530.2,1729.2 1511.2,1727.9 1492.2,1726.5 1473.2,1725 1454.1,1723.5 1435.1,1721.9 1437.3,1696.2 1439.5,1670.5 1441.7,1644.8 1443.9,1619.2 1446,1593.5 1448.2,1567.9 1450.4,1542.3 1452.2,1521.2 1454,1500.2 1455.7,1479.2 1457.5,1458.2Z"/>
<path fill="#dddddd" d="M1480.6,1186.2 1498.3,1187.6 1515.9,1189 1533.6,1190.4 1551.3,1191.7 1568.9,1193 1586.6,1194.2 1604.3,1195.3 1622,1196.4 1639.6,1197.4 1657.3,1198.4 1675,1199.3 1692.7,1200.2 1710.4,1201 1728.1,1201.7 1745.8,1202.4 1763.5,1203.1 1781.2,1203.7 1798.9,1204.2 1816.6,1204.7 1834.3,1205.1 1852,1205.4 1869.8,1205.8 1887.5,1206 1891.3,1232.7 1891.2,1246 1891,1259.3 1893.8,1281.6 1897.8,1302.1 1903.1,1316.5 1908.4,1330.8 1908.3,1348.6 1908.1,1366.5 1909.5,1380.8 1910.9,1395.1 1912,1420.2 1917.4,1433.6 1922.9,1447.1 1924.7,1465 1925.2,1479.4 1906.5,1479.2 1887.8,1479 1869,1478.8 1850.3,1478.5 1831.6,1478.1 1812.9,1477.7 1794.1,1477.2 1775.4,1476.6 1756.7,1476 1738,1475.3 1719.2,1474.6 1700.5,1473.8 1681.8,1473 1663.1,1472.1 1644.4,1471.1 1625.7,1470.1 1607,1469 1588.3,1467.8 1569.6,1466.6 1550.9,1465.4 1532.2,1464.1 1513.5,1462.7 1494.9,1461.2 1476.2,1459.7 1457.5,1458.2 1459.6,1433.3 1461.7,1408.5 1463.8,1383.7 1466,1358.9 1468.1,1334.2 1470.2,1309.4 1472.3,1284.7 1474.3,1260 1476.4,1235.4 1478.5,1210.8 1480.6,1186.2Z"/>
<path fill="#74b0b1" d="M1887.5,1206 1905.1,1206.2 1922.7,1206.4 1940.4,1206.4 1958,1206.5 1975.7,1206.5 1993.3,1206.4 2010.9,1206.3 2010.8,1189.9 2010.7,1173.5 2022.5,1173.4 2030.3,1179.5 2033.6,1203.8 2036.9,1228.1 2055,1237.6 2072.4,1238.7 2089.9,1239.6 2103.1,1239.8 2116.3,1239.9 2128.3,1238.6 2140.2,1237.4 2151.5,1242.3 2162.8,1247.3 2179.3,1270.7 2190.3,1266.3 2201.3,1261.8 2213.8,1271.1 2226.3,1280.3 2236.9,1280.7 2247.6,1281 2259.4,1275.1 2271.1,1269.1 2285,1272.8 2298.8,1276.5 2310.9,1275.7 2323,1275 2335.3,1278.7 2347.7,1282.3 2354.4,1281.9 2342.5,1290.7 2330.6,1299.5 2318.8,1305.6 2307,1311.7 2295.3,1319.8 2283.5,1327.9 2271.7,1336 2257.1,1350.2 2242.5,1364.3 2230.7,1373.8 2218.8,1383.3 2201,1402 2189.6,1410.5 2190.6,1436.4 2191.7,1462.4 2188.4,1474.2 2179.3,1483.5 2170.3,1492.8 2164.6,1511 2171.4,1524.2 2166,1551.4 2164.9,1567.2 2163.9,1583 2183.6,1598.5 2196.6,1604.3 2212.9,1612.6 2226.4,1627.8 2239.9,1643 2256.4,1651.3 2265.4,1664.4 2270,1691.2 2251.2,1692.1 2232.4,1693 2213.6,1693.8 2194.7,1694.5 2175.9,1695.2 2157.1,1695.9 2138.3,1696.4 2119.4,1697 2100.6,1697.4 2081.8,1697.8 2062.9,1698.2 2044.1,1698.4 2025.3,1698.7 2006.4,1698.8 1987.6,1698.9 1968.7,1699 1949.9,1699 1931.1,1698.9 1931.2,1671.9 1931.3,1644.8 1931.5,1617.8 1931.6,1590.8 1931.7,1563.8 1931.8,1536.9 1917.4,1526.9 1906.8,1508 1919.5,1491.9 1925.2,1479.4 1924.7,1465 1922.9,1447.1 1917.4,1433.6 1912,1420.2 1910.9,1395.1 1909.5,1380.8 1908.1,1366.5 1908.3,1348.6 1908.4,1330.8 1903.1,1316.5 1897.8,1302.1 1893.8,1281.6 1891,1259.3 1891.2,1246 1891.3,1232.7 1887.5,1206Z"/>
<path fill="#bcd8dc" d="M2270,1691.2 2251.2,1692.1 2232.4,1693 2213.6,1693.8 2194.7,1694.5 2175.9,1695.2 2157.1,1695.9 2138.3,1696.4 2119.4,1697 2100.6,1697.4 2081.8,1697.8 2062.9,1698.2 2044.1,1698.4 2025.3,1698.7 2006.4,1698.8 1987.6,1698.9 1968.7,1699 1949.9,1699 1931.1,1698.9 1921.2,1721.4 1927.6,1744.1 1928.8,1766.6 1930.6,1790.1 1937.1,1816.4 1945.3,1830 1953.6,1843.6 1955.3,1859.4 1956.9,1875.2 1965.6,1897.8 1969,1925 1972.4,1952.2 1975.8,1963 1995.3,1962.7 2014.8,1962.4 2034.3,1962 2053.8,1961.6 2073.3,1961.1 2092.8,1960.5 2112.3,1959.9 2131.8,1959.2 2151.3,1958.5 2170.8,1957.6 2190.3,1956.8 2209.8,1955.9 2229.3,1954.9 2248.7,1953.8 2259.7,1963.8 2270.7,1973.7 2277.7,1951.6 2290.3,1933.7 2292.9,1918.1 2295.4,1902.6 2290.8,1878.4 2306.6,1873 2322.3,1867.6 2334.1,1852.4 2345.9,1837.2 2347.1,1813.6 2325.9,1792.2 2312.6,1778.5 2298.6,1768.4 2284.6,1758.3 2276.6,1731.5 2273.3,1711.4 2270,1691.2Z"/>
<path fill="#96c2c4" d="M2270.7,1973.7 2259.7,1963.8 2248.7,1953.8 2229.3,1954.9 2209.8,1955.9 2190.3,1956.8 2170.8,1957.6 2151.3,1958.5 2131.8,1959.2 2112.3,1959.9 2092.8,1960.5 2073.3,1961.1 2053.8,1961.6 2034.3,1962 2014.8,1962.4 1995.3,1962.7 1975.8,1963 1984,1983.8 1995.6,1999.6 2007.3,2015.4 2021.7,2028.9 2032.1,2042.4 2034.7,2055.9 2037.2,2069.5 2056.8,2091.9 2056.2,2096.5 2056.4,2120.3 2056.7,2144.1 2057,2167.9 2057.2,2191.7 2057.5,2215.5 2057.7,2239.3 2058,2263.1 2058.3,2286.9 2058.6,2309.5 2058.9,2332.2 2080.2,2331.9 2101.5,2331.4 2122.8,2331 2144.1,2330.4 2165.4,2329.8 2186.7,2329.1 2208,2328.4 2229.3,2327.6 2250.6,2326.7 2271.9,2325.8 2293.2,2324.8 2314.5,2323.7 2335.7,2322.5 2357,2321.3 2378.3,2320 2379.4,2338.1 2365.3,2366.2 2381.3,2365.3 2397.3,2364.3 2413.4,2363.2 2422.9,2344.4 2424.7,2317 2437,2288.9 2446.4,2270.1 2428,2262.3 2419.7,2244.7 2418.1,2231.1 2416.4,2217.6 2402.2,2204.9 2388,2192.2 2365.9,2175.5 2354.6,2162.5 2359.5,2146.3 2364.5,2130.1 2367.5,2111.8 2355.7,2105.7 2343.9,2099.6 2325.9,2087 2307.2,2060.7 2292.8,2047.9 2278.4,2035 2270.3,2008.2 2270.5,1990.9 2270.7,1973.7Z"/>
<path fill="#d4e5eb" d="M2413.4,2363.2 2397.3,2364.3 2381.3,2365.3 2365.3,2366.2 2379.4,2338.1 2378.3,2320 2357,2321.3 2335.7,2322.5 2314.5,2323.7 2293.2,2324.8 2271.9,2325.8 2250.6,2326.7 2229.3,2327.6 2208,2328.4 2186.7,2329.1 2165.4,2329.8 2144.1,2330.4 2122.8,2331 2101.5,2331.4 2080.2,2331.9 2058.9,2332.2 2062.7,2357.3 2066.5,2382.4 2070.3,2407.5 2074.2,2432.6 2074,2459 2073.8,2485.4 2073.6,2511.8 2073.4,2538.2 2073.3,2564.6 2073.1,2591 2090.2,2596.1 2105.9,2598.6 2106.4,2622.5 2106.9,2646.5 2128.4,2646 2150,2645.4 2171.5,2644.8 2193,2644.2 2214.6,2643.4 2236.1,2642.6 2257.6,2641.7 2279.2,2640.8 2300.7,2639.8 2322.2,2638.8 2319.7,2619.4 2317.3,2600.1 2323.3,2572.6 2329.9,2556.4 2336.4,2540.2 2346.6,2523.8 2356.7,2507.4 2366.4,2484.1 2375.7,2456.4 2389.6,2444.6 2398.9,2418.6 2399.8,2405 2400.8,2391.3 2413.4,2363.2Z"/>
<path fill="#d9e7ed" d="M2322.2,2638.8 2300.7,2639.8 2279.2,2640.8 2257.6,2641.7 2236.1,2642.6 2214.6,2643.4 2193,2644.2 2171.5,2644.8 2150,2645.4 2128.4,2646 2106.9,2646.5 2107.4,2669.7 2107.8,2693 2108.3,2716.2 2108.8,2739.4 2116.1,2760.9 2122.1,2774.3 2128.1,2787.7 2147.8,2811.6 2148.5,2836.8 2137.6,2864.1 2136.8,2877.6 2135.9,2891.1 2134.9,2913.7 2131.4,2929.5 2127.9,2945.3 2144.6,2942.7 2161.4,2940.1 2174.8,2941.2 2188.3,2942.2 2202.8,2947.4 2217.3,2952.5 2231.8,2955.1 2246.3,2957.7 2262.9,2949.4 2258.7,2940.1 2274.2,2930.8 2283.6,2938 2302.2,2939 2314.6,2960.8 2331.2,2963.9 2331.2,2980.5 2354,2985.6 2364.3,2990.8 2376.7,2982 2389.1,2973.2 2405.7,2974.2 2414,2988.7 2426.4,2979.4 2438.8,2970.1 2459.5,2969.1 2471.9,2978.4 2484.4,2987.7 2503,2982.5 2498.9,2971.1 2484.4,2964.9 2469.9,2958.7 2455.4,2947.3 2469.9,2929.7 2478.2,2911.1 2465.8,2901.8 2459.5,2907 2457.5,2915.2 2451.3,2916.3 2439.9,2905.9 2459.5,2890.4 2455.9,2887.3 2450.5,2863.4 2441.3,2841.4 2441.2,2827.9 2441,2814.4 2420.1,2815.7 2399.2,2817 2378.3,2818.2 2357.4,2819.4 2336.5,2820.5 2315.6,2821.6 2294.7,2822.6 2300.5,2799.7 2305.6,2786 2310.7,2772.2 2311.9,2758.6 2313.2,2745 2334.8,2721.3 2344.9,2698.2 2328.6,2676.4 2325.4,2657.6 2322.2,2638.8ZM2273,2951 2283,2948 2293,2953 2284,2960 2273,2951Z"/>
<path fill="#dddddd" d="M2528.5,2445.5 2506.7,2447.3 2484.9,2449 2463,2450.6 2441.2,2452.1 2419.4,2453.6 2397.6,2455 2375.7,2456.4 2366.4,2484.1 2356.7,2507.4 2346.6,2523.8 2336.4,2540.2 2329.9,2556.4 2323.3,2572.6 2317.3,2600.1 2319.7,2619.4 2322.2,2638.8 2325.4,2657.6 2328.6,2676.4 2344.9,2698.2 2334.8,2721.3 2313.2,2745 2311.9,2758.6 2310.7,2772.2 2305.6,2786 2300.5,2799.7 2294.7,2822.6 2315.6,2821.6 2336.5,2820.5 2357.4,2819.4 2378.3,2818.2 2399.2,2817 2420.1,2815.7 2441,2814.4 2441.2,2827.9 2441.3,2841.4 2450.5,2863.4 2455.9,2887.3 2474.3,2872.5 2487.7,2869.3 2501,2866.1 2524.1,2864.4 2547.3,2862.6 2544.6,2839.9 2541.8,2817.2 2539.1,2794.6 2536.4,2771.9 2533.7,2749.2 2531,2726.5 2531.7,2699.3 2532.3,2672 2532.9,2644.8 2533.5,2617.6 2534,2590.3 2534.6,2563.1 2535.1,2535.8 2535.6,2508.5 2536.1,2481.2 2536.5,2453.9 2528.5,2445.5Z"/>
<path fill="#bed9dd" d="M2717.2,2427.4 2696.3,2429.6 2675.3,2431.8 2654.4,2434 2633.4,2436.1 2612.4,2438.1 2591.5,2440 2570.5,2441.9 2549.5,2443.7 2528.5,2445.5 2536.5,2453.9 2536.1,2481.2 2535.6,2508.5 2535.1,2535.8 2534.6,2563.1 2534,2590.3 2533.5,2617.6 2532.9,2644.8 2532.3,2672 2531.7,2699.3 2531,2726.5 2533.7,2749.2 2536.4,2771.9 2539.1,2794.6 2541.8,2817.2 2544.6,2839.9 2547.3,2862.6 2558.8,2860.7 2570.2,2858.9 2574.3,2833.2 2581.8,2839.8 2584.4,2856.3 2587,2872.8 2601.4,2869.3 2615.9,2865.8 2611.9,2844.4 2607.9,2823.1 2604,2801.8 2626.1,2799.8 2648.1,2797.7 2670.2,2795.6 2692.3,2793.4 2714.3,2791.1 2736.4,2788.8 2758.4,2786.4 2780.4,2784 2802.5,2781.4 2797.8,2763.8 2793.2,2746.2 2788.6,2728.6 2787.8,2701.5 2790,2687.6 2792.2,2673.7 2786.8,2647.1 2778.3,2632.1 2769.8,2617.2 2763.1,2593.5 2756.5,2569.8 2749.9,2546.1 2743.3,2522.4 2736.7,2498.7 2730.2,2474.9 2723.7,2451.1 2717.2,2427.4Z"/>
<path fill="#dddddd" d="M2717.2,2427.4 2735.8,2425.5 2754.4,2423.6 2773,2421.6 2791.5,2419.5 2810.1,2417.5 2827.7,2415.1 2845.3,2412.6 2863,2410.2 2880.6,2407.6 2898.2,2405.1 2909.1,2431 2923.1,2451.9 2934.4,2466.3 2945.8,2480.7 2958.7,2492.6 2971.6,2504.4 2986.7,2518.2 3001.9,2532 3023.7,2551.5 3033.1,2563.8 3042.6,2576.1 3054.1,2601.7 3066.9,2618 3079.8,2634.3 3100.9,2646.4 3093.1,2662.8 3085.3,2679.1 3082.5,2697.8 3079.6,2716.5 3076.4,2732.9 3073.1,2749.4 3076.4,2770.7 3056.8,2770.1 3036,2786.9 3034.8,2805.2 3019.6,2792 2997,2793.9 2974.4,2795.6 2951.8,2797.4 2929.2,2799 2906.6,2800.6 2884,2802.1 2861.4,2803.5 2838.8,2804.8 2816.2,2806.1 2807.8,2794.4 2802.5,2781.4 2797.8,2763.8 2793.2,2746.2 2788.6,2728.6 2787.8,2701.5 2790,2687.6 2792.2,2673.7 2786.8,2647.1 2778.3,2632.1 2769.8,2617.2 2763.1,2593.5 2756.5,2569.8 2749.9,2546.1 2743.3,2522.4 2736.7,2498.7 2730.2,2474.9 2723.7,2451.1 2717.2,2427.4Z"/>
<path fill="#dddddd" d="M2802.5,2781.4 2780.4,2784 2758.4,2786.4 2736.4,2788.8 2714.3,2791.1 2692.3,2793.4 2670.2,2795.6 2648.1,2797.7 2626.1,2799.8 2604,2801.8 2607.9,2823.1 2611.9,2844.4 2615.9,2865.8 2627.9,2861.5 2640,2857.2 2655.2,2853.6 2670.3,2849.8 2693.4,2847.6 2716.5,2845.2 2736.9,2854.4 2757.4,2863.5 2783,2883.3 2792.7,2900.3 2808,2896.3 2823.2,2892.2 2835.9,2883.9 2848.6,2875.6 2862.4,2860.4 2875.6,2856.5 2888.8,2852.5 2913.7,2862.9 2927.3,2877 2940.9,2891.1 2954.9,2907.3 2969,2923.5 2990.3,2934.2 3004.5,2950.3 3004.7,2966.1 3004.9,2981.9 3005.1,2997.7 3005.3,3013.5 3019,3025.1 3035.4,3027.3 3028.8,3037.3 3018.8,3052.2 3026.9,3066.9 3035.1,3081.5 3049.5,3097.5 3064,3113.4 3079.3,3133.7 3102.5,3152.8 3108.9,3167.6 3115.2,3182.4 3142.7,3200.7 3155.2,3214.5 3167.7,3228.3 3174.2,3243 3180.6,3257.7 3196.9,3255.2 3216.5,3247.5 3236,3239.8 3241.6,3223.1 3247.1,3206.4 3248.5,3190.4 3250,3174.4 3247.9,3149.9 3245.8,3125.4 3240.5,3106 3235.1,3086.5 3224,3068.8 3212.9,3051 3201.8,3033.2 3190.3,3012.5 3178.8,2991.7 3178.4,2964.6 3171.6,2947.5 3156.7,2929.5 3141.8,2911.5 3131.2,2895 3120.7,2878.5 3109.8,2859.7 3099,2841 3091.7,2819.4 3084.5,2797.7 3080.4,2784.2 3076.4,2770.7 3056.8,2770.1 3036,2786.9 3034.8,2805.2 3019.6,2792 2997,2793.9 2974.4,2795.6 2951.8,2797.4 2929.2,2799 2906.6,2800.6 2884,2802.1 2861.4,2803.5 2838.8,2804.8 2816.2,2806.1 2807.8,2794.4 2802.5,2781.4ZM3131,3319 3140,3308 3155,3298 3166,3293 3174,3297 3168,3303 3152,3310 3138,3318 3131,3319Z"/>
<path fill="#c0dadd" d="M2898.2,2405.1 2909.1,2431 2923.1,2451.9 2934.4,2466.3 2945.8,2480.7 2958.7,2492.6 2971.6,2504.4 2986.7,2518.2 3001.9,2532 3023.7,2551.5 3033.1,2563.8 3042.6,2576.1 3054.1,2601.7 3066.9,2618 3079.8,2634.3 3100.9,2646.4 3111.9,2629.1 3130.6,2603.2 3143.6,2589.6 3156.5,2575.9 3169.8,2564.5 3183,2553.1 3195.5,2537.1 3207.8,2521.2 3212.3,2504.3 3216.9,2487.4 3230.9,2471 3244.8,2454.7 3220.4,2437.3 3196.1,2419.9 3171.9,2402.4 3147.8,2384.7 3127.9,2387.7 3108,2390.6 3088.1,2393.4 3068.2,2396.2 3053.3,2372.9 3044.7,2369.7 3026.4,2371.7 3008.2,2373.6 2989.9,2375.4 2971.6,2377.3 2953.4,2379 2935,2387.8 2916.6,2396.4 2898.2,2405.1Z"/>
<path fill="#6eaead" d="M2979.1,2247.9 2999.6,2244.9 3020.1,2241.9 3040.7,2238.8 3061.2,2235.6 3081.7,2232.4 3102.2,2229.1 3122.6,2225.8 3143.1,2222.4 3163.6,2218.9 3184,2215.4 3204.5,2211.8 3224.9,2208.1 3245.3,2204.4 3265.7,2200.6 3286.1,2196.8 3306.5,2192.9 3326.9,2188.9 3347.2,2184.9 3367.6,2180.8 3387.9,2176.6 3394.3,2189.7 3400.6,2202.7 3411.6,2221.6 3409.2,2222.4 3399,2204.3 3387.2,2205.1 3383.3,2209.8 3371.5,2206.6 3366.7,2216.1 3357.3,2228.7 3348.7,2235.7 3338.4,2223.9 3334.5,2216.1 3333.7,2223.9 3341.6,2244.4 3362,2240.5 3373,2235.8 3384,2231 3388.3,2244 3392.7,2257 3394.3,2236.5 3399.8,2230.2 3407.6,2233.4 3413.1,2244.4 3415.5,2257 3406.1,2263.3 3391.9,2290 3379.3,2290 3366.7,2290 3358.1,2279 3354.2,2282.1 3358.9,2294.7 3369.1,2301.8 3365.2,2316.7 3355.7,2326.2 3351,2334.1 3343.1,2329.3 3355.7,2335.6 3373,2324.6 3388.8,2326.2 3379.3,2338.8 3377.8,2351.4 3357.3,2356.1 3336.9,2365.5 3318,2379.7 3302.2,2395.4 3292.8,2414.3 3288.1,2439.4 3280.2,2445.7 3262.5,2450.2 3244.8,2454.7 3220.4,2437.3 3196.1,2419.9 3171.9,2402.4 3147.8,2384.7 3127.9,2387.7 3108,2390.6 3088.1,2393.4 3068.2,2396.2 3053.3,2372.9 3044.7,2369.7 3026.4,2371.7 3008.2,2373.6 2989.9,2375.4 2971.6,2377.3 2953.4,2379 2935,2387.8 2916.6,2396.4 2898.2,2405.1 2880.6,2407.6 2863,2410.2 2845.3,2412.6 2827.7,2415.1 2810.1,2417.5 2823.1,2392.1 2838.2,2367.3 2850.4,2363 2862.6,2358.7 2881,2346.2 2899.4,2333.6 2910.7,2323.3 2922,2313 2941.7,2298.3 2954.6,2287.3 2967.4,2276.2 2979.1,2247.9Z"/>
<path fill="#97c3c4" d="M2837.5,2266.9 2818.8,2269 2800,2271 2781.3,2272.9 2762.5,2274.8 2743.8,2276.6 2722.4,2278.5 2701.1,2280.4 2679.7,2282.1 2658.4,2283.8 2637,2285.5 2617.9,2287.5 2598.7,2289.6 2579.6,2291.5 2560.4,2293.4 2541.2,2295.3 2525.2,2293 2526.6,2309.3 2506.2,2310.9 2485.8,2312.6 2465.4,2314.1 2445.1,2315.6 2424.7,2317 2422.9,2344.4 2413.4,2363.2 2400.8,2391.3 2399.8,2405 2398.9,2418.6 2389.6,2444.6 2375.7,2456.4 2397.6,2455 2419.4,2453.6 2441.2,2452.1 2463,2450.6 2484.9,2449 2506.7,2447.3 2528.5,2445.5 2549.5,2443.7 2570.5,2441.9 2591.5,2440 2612.4,2438.1 2633.4,2436.1 2654.4,2434 2675.3,2431.8 2696.3,2429.6 2717.2,2427.4 2735.8,2425.5 2754.4,2423.6 2773,2421.6 2791.5,2419.5 2810.1,2417.5 2823.1,2392.1 2838.2,2367.3 2850.4,2363 2862.6,2358.7 2881,2346.2 2899.4,2333.6 2910.7,2323.3 2922,2313 2941.7,2298.3 2954.6,2287.3 2967.4,2276.2 2979.1,2247.9 2958.9,2250.8 2938.7,2253.6 2918.5,2256.4 2898.2,2259.1 2878,2261.8 2857.8,2264.4 2837.5,2266.9Z"/>
<path fill="#b3d3d5" d="M2837.5,2266.9 2857.2,2257.5 2876.7,2248 2891.5,2224.9 2900.6,2212.6 2911.8,2203.2 2922.9,2193.9 2934.5,2179.8 2945.9,2165.7 2933.7,2162.5 2921.5,2159.2 2907.8,2138.3 2893.9,2115.6 2886.3,2099.2 2878.8,2082.9 2859.3,2069.1 2840,2081.8 2827.9,2083 2815.8,2084.1 2802.9,2079.4 2790.1,2074.6 2767.1,2058.3 2752.1,2049.2 2741.1,2050.5 2730.1,2051.8 2726.8,2070.5 2708.2,2090.9 2690.7,2090.1 2683.9,2108.2 2677.1,2126.3 2671.2,2136 2663.2,2159.7 2652.7,2160.8 2637.4,2148.7 2625.3,2168.2 2604.1,2167.5 2588.2,2185.5 2575.5,2182.1 2562.9,2178.7 2548.5,2175.4 2538.6,2183.1 2528.7,2190.8 2519.6,2191.6 2516.9,2219.1 2505.2,2239.6 2493.3,2260.1 2484.7,2259.9 2465.6,2265 2446.4,2270.1 2437,2288.9 2424.7,2317 2445.1,2315.6 2465.4,2314.1 2485.8,2312.6 2506.2,2310.9 2526.6,2309.3 2525.2,2293 2541.2,2295.3 2560.4,2293.4 2579.6,2291.5 2598.7,2289.6 2617.9,2287.5 2637,2285.5 2658.4,2283.8 2679.7,2282.1 2701.1,2280.4 2722.4,2278.5 2743.8,2276.6 2762.5,2274.8 2781.3,2272.9 2800,2271 2818.8,2269 2837.5,2266.9Z"/>
<path fill="#8cbdbe" d="M2979.1,2247.9 2999.6,2244.9 3020.1,2241.9 3040.7,2238.8 3061.2,2235.6 3081.7,2232.4 3102.2,2229.1 3122.6,2225.8 3143.1,2222.4 3163.6,2218.9 3184,2215.4 3204.5,2211.8 3224.9,2208.1 3245.3,2204.4 3265.7,2200.6 3286.1,2196.8 3306.5,2192.9 3326.9,2188.9 3347.2,2184.9 3367.6,2180.8 3387.9,2176.6 3380.5,2163.6 3373,2150.5 3360.5,2148.8 3348,2147 3341,2133 3338,2125.4 3336.5,2109.6 3338.2,2088.6 3335.9,2064.6 3316.5,2056.5 3301.7,2047.5 3283.5,2045 3274.4,2034.5 3260.7,2035 3256.2,2028.2 3256.2,2013.4 3264.1,1999.7 3265.3,1988.3 3248.2,1981.5 3231.1,1978.1 3219.7,1977.6 3208.3,1977 3194.7,1973.5 3210.4,1956.6 3206.9,1974.8 3191,1957.6 3178.6,1954.9 3166.2,1952.2 3166.4,1976.1 3156.2,1987.2 3146,1998.3 3131.4,2014.8 3124.6,2035.8 3117.8,2056.9 3105.5,2057.6 3093.3,2058.4 3086.1,2078.1 3078.8,2097.7 3061.8,2123.6 3062.8,2151 3044.8,2160.8 3026.7,2170.7 3015.2,2177.1 3003.7,2183.5 2987.9,2186 2972.2,2188.4 2959,2177.1 2945.9,2165.7 2934.5,2179.8 2922.9,2193.9 2911.8,2203.2 2900.6,2212.6 2891.5,2224.9 2876.7,2248 2857.2,2257.5 2837.5,2266.9 2857.8,2264.4 2878,2261.8 2898.2,2259.1 2918.5,2256.4 2938.7,2253.6 2958.9,2250.8 2979.1,2247.9ZM3372,2047 3369.2,2070.5 3366.3,2094 3363.3,2117.5 3371.2,2127 3376.7,2111.3 3382.2,2095.5 3386.9,2067.2 3401,2042 3386.5,2044.5 3372,2047Z"/>
<path fill="#e0ebf3" d="M3001.4,1872.6 2999.5,1895 2999.8,1917.9 2995.8,1926.8 2994.3,1943.5 2992.9,1960.3 2982.8,1973.4 2972.7,1986.4 2956.5,1993.6 2950.8,2006.4 2939.1,2016.4 2940.1,2037.3 2929.5,2041.2 2918.9,2045.1 2913.2,2054.2 2909.1,2074 2901.1,2091.6 2893.9,2115.6 2907.8,2138.3 2921.5,2159.2 2933.7,2162.5 2945.9,2165.7 2959,2177.1 2972.2,2188.4 2987.9,2186 3003.7,2183.5 3015.2,2177.1 3026.7,2170.7 3044.8,2160.8 3062.8,2151 3061.8,2123.6 3078.8,2097.7 3086.1,2078.1 3093.3,2058.4 3105.5,2057.6 3117.8,2056.9 3124.6,2035.8 3131.4,2014.8 3146,1998.3 3156.2,1987.2 3166.4,1976.1 3166.2,1952.2 3178.6,1954.9 3191,1957.6 3206.9,1974.8 3210.4,1956.6 3201,1937.2 3186.3,1933.1 3171.6,1929 3157.2,1945.5 3146,1943 3134.7,1940.5 3124.9,1951.5 3115,1962.5 3104.1,1976 3093.2,1989.4 3089.1,1966.2 3085.1,1943 3067.5,1946 3050,1949 3032.4,1952 3014.9,1954.9 3011.5,1934.3 3008.1,1913.8 3004.8,1893.2 3001.4,1872.6Z"/>
<path fill="#a9cfd1" d="M3085.1,1943 3104.2,1939.6 3123.3,1936.1 3142.4,1932.6 3161.5,1929.1 3180.6,1925.5 3199.7,1921.8 3218.7,1918 3237.8,1914.3 3256.8,1910.4 3275.8,1906.5 3294.9,1902.6 3313.9,1898.5 3332.9,1894.5 3338.9,1916.6 3345,1938.7 3351.1,1960.8 3357.2,1982.9 3363.3,2005 3377.5,2003.2 3391.6,2001.4 3405.8,1999.5 3405,2023 3401,2042 3386.5,2044.5 3372,2047 3360.2,2048.3 3358,2035 3353,2019.1 3345,2020.2 3335.9,2030.5 3322.2,2016.8 3321.1,2006.6 3333.6,1999.7 3317.7,1988.3 3318.4,1970.1 3319,1952 3320.5,1933 3322,1914 3318,1912 3308,1930 3301.7,1954.2 3300.6,1980.4 3304,2004.3 3315.4,2025.9 3325.6,2046.4 3316,2046 3301.7,2042.5 3283.5,2040.5 3274.4,2031 3260.7,2035 3256.2,2028.2 3256.2,2013.4 3264.1,1999.7 3265.3,1988.3 3248.2,1981.5 3231.1,1978.1 3219.7,1977.6 3208.3,1977 3194.7,1973.5 3210.4,1956.6 3201,1937.2 3186.3,1933.1 3171.6,1929 3157.2,1945.5 3146,1943 3134.7,1940.5 3124.9,1951.5 3115,1962.5 3104.1,1976 3093.2,1989.4 3089.1,1966.2 3085.1,1943Z"/>
<path fill="#ecf0fb" d="M3405.8,1999.5 3391.6,2001.4 3377.5,2003.2 3363.3,2005 3357.2,1982.9 3351.1,1960.8 3345,1938.7 3338.9,1916.6 3332.9,1894.5 3343.2,1881.1 3356,1882 3352,1890 3350.7,1898.8 3352.3,1916.1 3360.2,1931.8 3379,1953.9 3396.3,1967.2 3403.4,1974.3 3405.8,1999.5Z"/>
<path fill="#1b8a87" d="M3372.7,1733.5 3352,1727 3342.1,1704.2 3323.9,1689.7 3317.1,1686.6 3298.1,1690.8 3279.1,1694.9 3260.1,1698.9 3241.1,1702.9 3222.1,1706.8 3203,1710.7 3184,1714.5 3164.9,1718.2 3145.8,1721.9 3126.7,1725.5 3107.6,1729.1 3088.5,1732.6 3069.4,1736.1 3050.2,1739.5 3031.1,1742.8 3026.9,1718.7 3011.9,1730.2 2996.8,1741.6 2981.7,1752.9 2985.6,1776.9 2989.6,1800.8 2993.5,1824.7 2997.4,1848.7 3001.4,1872.6 3004.8,1893.2 3008.1,1913.8 3011.5,1934.3 3014.9,1954.9 3032.4,1952 3050,1949 3067.5,1946 3085.1,1943 3104.2,1939.6 3123.3,1936.1 3142.4,1932.6 3161.5,1929.1 3180.6,1925.5 3199.7,1921.8 3218.7,1918 3237.8,1914.3 3256.8,1910.4 3275.8,1906.5 3294.9,1902.6 3313.9,1898.5 3332.9,1894.5 3343.2,1881.1 3356,1882 3372.4,1864.4 3376.8,1858.8 3391,1835.2 3377.7,1827.5 3364.5,1819.8 3353,1799.2 3353.7,1771.2 3363.2,1752.3 3372.7,1733.5Z"/>
<path fill="#7ab5b5" d="M3356,1882 3372.4,1864.4 3376.8,1858.8 3391,1835.2 3377.7,1827.5 3364.5,1819.8 3353,1799.2 3353.7,1771.2 3363.2,1752.3 3372.7,1733.5 3392,1740.2 3411.5,1746.8 3431,1753.4 3429.6,1777 3429.7,1786.3 3418.6,1798.2 3422.9,1801.8 3437.2,1803.1 3440.8,1818.5 3444.4,1834 3444.8,1850.2 3445.1,1866.4 3434.5,1896.8 3421.9,1918.3 3413.3,1935.1 3404.7,1952 3413.7,1944.4 3402.6,1935.8 3383.8,1931.8 3370.4,1923.9 3357,1916 3353.9,1902 3356,1882Z"/>
<path fill="#1b8784" d="M3372.7,1733.5 3352,1727 3342.1,1704.2 3323.9,1689.7 3317.1,1686.6 3298.1,1690.8 3279.1,1694.9 3260.1,1698.9 3241.1,1702.9 3222.1,1706.8 3203,1710.7 3184,1714.5 3164.9,1718.2 3145.8,1721.9 3126.7,1725.5 3107.6,1729.1 3088.5,1732.6 3069.4,1736.1 3050.2,1739.5 3031.1,1742.8 3026.9,1718.7 3040.1,1705.9 3053.2,1693 3063.1,1673.8 3072.9,1654.6 3063,1636.2 3057.2,1622.6 3073.9,1614.5 3090.6,1606.4 3105.5,1606.3 3120.3,1606.3 3135.2,1606.2 3150.1,1606 3169,1600.9 3187.8,1595.7 3202.2,1585 3216.6,1574.2 3233.8,1561.4 3230,1543.7 3226.3,1526.1 3214.8,1511.9 3226.2,1499.4 3237.6,1486.8 3246.8,1468.7 3255.9,1450.6 3269,1434.4 3281.9,1418.1 3298.8,1414 3315.6,1409.8 3332.4,1405.6 3349.2,1401.4 3366,1397.1 3382.8,1392.7 3387.4,1413.5 3392.1,1434.3 3396.7,1455.1 3398.6,1473.2 3407.6,1494.9 3413.9,1507.6 3420.3,1520.3 3425.7,1543.8 3431.2,1567.4 3436.6,1589.3 3436.5,1611 3436.3,1632.7 3436.1,1654.5 3440.7,1672 3445.3,1689.5 3447.7,1705.2 3450.1,1720.9 3441.3,1741.6 3448,1749.3 3449.3,1754.4 3464.2,1754.4 3480.4,1749.4 3484.1,1744.5 3500.3,1739.5 3516.4,1734.5 3532.5,1720.9 3548.7,1726.5 3532.5,1739.5 3517,1752.6 3501.5,1765.6 3489.1,1771.8 3476.6,1778 3461.1,1784.2 3445.6,1790.4 3437,1792 3432,1785 3431.5,1769.2 3431,1753.4 3411.5,1746.8 3392,1740.2 3372.7,1733.5Z"/>
<path fill="#eff3fc" d="M3382.8,1392.7 3399,1388.7 3415.3,1384.7 3431.6,1380.6 3447.8,1376.5 3464,1372.3 3480.3,1368.1 3496.5,1363.9 3496.3,1388.1 3493.9,1416.7 3481.3,1432 3483.1,1452 3481.4,1471.1 3478.7,1499.7 3478,1523.1 3480.3,1538.8 3482.6,1554.6 3487.9,1578.4 3470.8,1582 3453.7,1585.7 3436.6,1589.3 3431.2,1567.4 3425.7,1543.8 3420.3,1520.3 3413.9,1507.6 3407.6,1494.9 3398.6,1473.2 3396.7,1455.1 3392.1,1434.3 3387.4,1413.5 3382.8,1392.7Z"/>
<path fill="#dddddd" d="M3496.5,1363.9 3497.1,1341.4 3506.3,1336.7 3515.4,1331.9 3523.7,1354.5 3532,1377.1 3540.3,1399.7 3544.5,1417.2 3548.8,1434.7 3553.1,1452.2 3559.3,1469.2 3565.6,1486.2 3582.1,1509.8 3591.2,1518.5 3588.6,1538.9 3576.6,1548.2 3564.5,1557.6 3549.2,1561.8 3533.9,1566 3518.6,1570.2 3503.3,1574.3 3487.9,1578.4 3482.6,1554.6 3480.3,1538.8 3478,1523.1 3478.7,1499.7 3481.4,1471.1 3483.1,1452 3481.3,1432 3493.9,1416.7 3496.3,1388.1 3496.5,1363.9Z"/>
<path fill="#d7e6ed" d="M3515.4,1331.9 3530.2,1318.6 3539.4,1292.8 3548.6,1267 3546.8,1248.9 3551.5,1219.7 3549.7,1206.2 3547.9,1192.8 3556.8,1167 3565.7,1141.3 3574.4,1115.5 3587.5,1124.3 3600.6,1133 3610.9,1124.7 3621.2,1116.4 3631.5,1108 3650.1,1115.5 3668.7,1122.9 3675.8,1146.3 3683,1169.8 3690.2,1193.2 3697.4,1216.7 3704.6,1240.2 3716.1,1241.4 3727.6,1242.5 3732.3,1257.5 3736.9,1272.6 3750.1,1277.9 3763.4,1283.1 3778.7,1300 3771,1312.8 3763.3,1325.6 3749.4,1334.6 3735.5,1343.6 3725.2,1353.8 3714.9,1363.9 3703.3,1369.8 3691.7,1375.6 3675.6,1366.2 3673.9,1383.2 3672.1,1400.1 3659.2,1413.2 3646.2,1426.4 3635.7,1436.4 3625.1,1446.4 3610.1,1464.7 3602.4,1485.5 3595.8,1510.7 3591.2,1518.5 3582.1,1509.8 3565.6,1486.2 3559.3,1469.2 3553.1,1452.2 3548.8,1434.7 3544.5,1417.2 3540.3,1399.7 3532,1377.1 3523.7,1354.5 3515.4,1331.9Z"/>
<path fill="#7fb6b7" d="M3588.6,1538.9 3592.4,1545 3598.6,1557.5 3605.6,1562.1 3595.5,1568.3 3590.8,1577.6 3590,1590.1 3604.8,1594.7 3617.2,1604 3620.3,1614.9 3626.5,1618 3628.9,1624.2 3632.7,1628.9 3649.8,1632 3665.3,1619.6 3673.1,1626.6 3659.2,1636.2 3645.2,1645.8 3631.2,1655.3 3628.1,1639.8 3621.9,1644.4 3614.1,1653.7 3604.8,1661.5 3601.7,1663.7 3592.6,1650.2 3582.2,1647.3 3572.9,1622.7 3559.3,1625.8 3545.8,1628.8 3527.5,1633.3 3509.3,1637.6 3491,1641.9 3472.7,1646.1 3454.4,1650.3 3436.1,1654.5 3436.3,1632.7 3436.5,1611 3436.6,1589.3 3453.7,1585.7 3470.8,1582 3487.9,1578.4 3503.3,1574.3 3518.6,1570.2 3533.9,1566 3549.2,1561.8 3564.5,1557.6 3576.6,1548.2 3588.6,1538.9ZM3625,1670.8 3637.4,1658.4 3648.3,1664.6 3640.5,1667.7 3625,1670.8Z"/>
<path fill="#dddddd" d="M3601.7,1663.7 3592.6,1650.2 3582.2,1647.3 3572.9,1622.7 3559.3,1625.8 3545.8,1628.8 3549.9,1649.9 3554,1671 3558.1,1692 3570.4,1685.1 3582.8,1678.1 3591.3,1671.1 3601.7,1663.7Z"/>
<path fill="#bcd8dc" d="M3545.8,1628.8 3527.5,1633.3 3509.3,1637.6 3491,1641.9 3472.7,1646.1 3454.4,1650.3 3436.1,1654.5 3440.7,1672 3445.3,1689.5 3447.7,1705.2 3450.1,1720.9 3441.3,1741.6 3448,1749.3 3464.2,1734.5 3475.4,1726.5 3486.6,1718.4 3500.3,1714.1 3513.9,1709.7 3528.6,1703.8 3543.4,1697.9 3558.1,1692 3554,1671 3549.9,1649.9 3545.8,1628.8Z"/>
<path fill="#52a0a0" d="M2702.5,1812.5 2720.5,1810.9 2738.6,1809.2 2756.6,1807.5 2774.6,1805.7 2792.6,1803.9 2808.2,1807.7 2823.9,1811.5 2845.6,1822.2 2862,1819 2878.4,1815.7 2894.7,1811.9 2911,1808.1 2924.1,1794.6 2937.1,1781.2 2950.9,1772.1 2964.5,1763.1 2981.7,1752.9 2985.6,1776.9 2989.6,1800.8 2993.5,1824.7 2997.4,1848.7 3001.4,1872.6 2999.5,1895 2999.8,1917.9 2995.8,1926.8 2994.3,1943.5 2992.9,1960.3 2982.8,1973.4 2972.7,1986.4 2956.5,1993.6 2950.8,2006.4 2939.1,2016.4 2940.1,2037.3 2929.5,2041.2 2918.9,2045.1 2913.2,2054.2 2909.1,2074 2901.1,2091.6 2893.9,2115.6 2886.3,2099.2 2878.8,2082.9 2859.3,2069.1 2840,2081.8 2827.9,2083 2815.8,2084.1 2802.9,2079.4 2790.1,2074.6 2767.1,2058.3 2752.1,2049.2 2741.1,2050.5 2730.1,2051.8 2727.1,2025.2 2724,1998.6 2720.9,1972 2717.9,1945.4 2714.8,1918.8 2711.7,1892.2 2708.7,1865.6 2705.6,1839 2702.5,1812.5Z"/>
<path fill="#89bbbc" d="M2523.1,1836.5 2534.4,1839.2 2545.7,1841.8 2557.7,1834.3 2569.7,1826.8 2588.7,1824.9 2607.6,1823 2626.6,1821 2645.6,1818.9 2664.6,1816.8 2683.6,1814.7 2702.5,1812.5 2705.6,1839 2708.7,1865.6 2711.7,1892.2 2714.8,1918.8 2717.9,1945.4 2720.9,1972 2724,1998.6 2727.1,2025.2 2730.1,2051.8 2726.8,2070.5 2708.2,2090.9 2690.7,2090.1 2683.9,2108.2 2677.1,2126.3 2671.2,2136 2663.2,2159.7 2652.7,2160.8 2637.4,2148.7 2625.3,2168.2 2604.1,2167.5 2588.2,2185.5 2575.5,2182.1 2562.9,2178.7 2548.5,2175.4 2538.6,2183.1 2528.7,2190.8 2519.6,2191.6 2520.2,2173.3 2521.7,2150.4 2534.1,2131.2 2547.5,2109.1 2540.5,2085.1 2541.6,2066.8 2542.8,2048.5 2540.3,2022 2537.8,1995.5 2535.4,1969 2532.9,1942.5 2530.5,1916 2528,1889.5 2525.6,1863 2523.1,1836.5Z"/>
<path fill="#1a8b88" d="M2312.6,1778.5 2331.3,1777.5 2349.9,1776.4 2368.6,1775.3 2387.2,1774.2 2405.8,1773 2424.5,1771.7 2443.1,1770.4 2461.8,1769 2480.4,1767.5 2499,1766.1 2505.9,1788.1 2512.8,1810.2 2523.1,1836.5 2525.6,1863 2528,1889.5 2530.5,1916 2532.9,1942.5 2535.4,1969 2537.8,1995.5 2540.3,2022 2542.8,2048.5 2541.6,2066.8 2540.5,2085.1 2547.5,2109.1 2534.1,2131.2 2521.7,2150.4 2520.2,2173.3 2519.6,2191.6 2516.9,2219.1 2505.2,2239.6 2493.3,2260.1 2484.7,2259.9 2465.6,2265 2446.4,2270.1 2428,2262.3 2419.7,2244.7 2418.1,2231.1 2416.4,2217.6 2402.2,2204.9 2388,2192.2 2365.9,2175.5 2354.6,2162.5 2359.5,2146.3 2364.5,2130.1 2367.5,2111.8 2355.7,2105.7 2343.9,2099.6 2325.9,2087 2307.2,2060.7 2292.8,2047.9 2278.4,2035 2270.3,2008.2 2270.5,1990.9 2270.7,1973.7 2277.7,1951.6 2290.3,1933.7 2292.9,1918.1 2295.4,1902.6 2290.8,1878.4 2306.6,1873 2322.3,1867.6 2334.1,1852.4 2345.9,1837.2 2347.1,1813.6 2325.9,1792.2 2312.6,1778.5Z"/>
<path fill="#91c0c1" d="M2305.6,1412.9 2293.7,1410 2281.7,1407.1 2277.9,1393.8 2274.1,1380.6 2263.6,1385.7 2253,1390.7 2236.4,1398.2 2219.8,1405.7 2201,1402 2189.6,1410.5 2190.6,1436.4 2191.7,1462.4 2188.4,1474.2 2179.3,1483.5 2170.3,1492.8 2164.6,1511 2171.4,1524.2 2166,1551.4 2164.9,1567.2 2163.9,1583 2183.6,1598.5 2196.6,1604.3 2212.9,1612.6 2226.4,1627.8 2239.9,1643 2256.4,1651.3 2265.4,1664.4 2270,1691.2 2273.3,1711.4 2276.6,1731.5 2284.6,1758.3 2298.6,1768.4 2312.6,1778.5 2331.3,1777.5 2349.9,1776.4 2368.6,1775.3 2387.2,1774.2 2405.8,1773 2424.5,1771.7 2443.1,1770.4 2461.8,1769 2480.4,1767.5 2499,1766.1 2493.8,1743.8 2488.3,1718 2488.5,1701.7 2488.8,1685.4 2492.3,1669.2 2495.7,1653.1 2495.9,1637.2 2496.2,1621.4 2499.6,1605.2 2502.9,1589.1 2505.2,1571.7 2507.5,1554.4 2522.9,1528.5 2530.9,1511.5 2513.5,1529.4 2499.7,1553.2 2489,1576.8 2470.6,1585.6 2474.1,1570.4 2477.6,1555.2 2491.4,1531.4 2476.9,1510.1 2473.8,1492.4 2470.7,1474.6 2454.7,1471.5 2444.6,1464.2 2434.6,1456.9 2419.8,1454.5 2405,1452 2390.2,1449.5 2377.5,1445.9 2364.7,1442.3 2351.6,1439 2338.5,1435.7 2325.4,1432.3 2305.6,1412.9Z"/>
<path fill="#5ca6a6" d="M2305.6,1412.9 2321,1400.8 2336.3,1388.6 2348.5,1386.3 2360.7,1384 2372.9,1381.6 2384.7,1372.7 2396.3,1363.8 2410.6,1349.3 2424.8,1334.7 2439.7,1329 2454.6,1323.3 2438.1,1347.1 2433.1,1360.9 2428.1,1374.8 2440.5,1376 2453,1377.2 2472.6,1389 2492.3,1400.7 2508.1,1403.2 2523.9,1405.6 2539.7,1407.9 2552.7,1399.1 2565.7,1390.3 2578.7,1381.5 2594.1,1377.6 2609.6,1373.6 2625,1369.6 2640.3,1365.6 2651.5,1378.7 2662.8,1391.8 2671.7,1388.4 2680.7,1385.1 2698.9,1405.4 2714.1,1426.1 2696,1432.9 2680.3,1438.4 2664.6,1443.9 2651.9,1437.3 2639.1,1430.6 2626.5,1429.8 2613.8,1429 2598.8,1435.2 2583.8,1441.3 2568.7,1447.4 2558.3,1452.9 2547.8,1458.5 2536.2,1468.6 2520.6,1470.1 2506.2,1485 2501.6,1503.4 2491.4,1531.4 2476.9,1510.1 2473.8,1492.4 2470.7,1474.6 2454.7,1471.5 2444.6,1464.2 2434.6,1456.9 2419.8,1454.5 2405,1452 2390.2,1449.5 2377.5,1445.9 2364.7,1442.3 2351.6,1439 2338.5,1435.7 2325.4,1432.3 2305.6,1412.9ZM2792.6,1803.9 2805.8,1777.5 2808.7,1749.7 2821.1,1743.4 2834.9,1723.3 2843.4,1712.9 2843.8,1696.9 2844.1,1680.9 2835.8,1659.3 2830.3,1644.1 2824.9,1628.9 2817.9,1614 2810.9,1599 2793.7,1592.3 2783.5,1600.6 2773.2,1608.8 2757.1,1622.3 2740.9,1635.7 2746.9,1619 2752.8,1602.4 2762.6,1578.3 2764.7,1557.6 2766.8,1536.9 2761.5,1521.7 2756.3,1506.6 2748,1491.8 2739.7,1477 2726.9,1476.9 2712.1,1471.8 2697.3,1466.8 2682.5,1461.6 2664.9,1452 2649,1461.1 2644.3,1475.2 2652.1,1487.9 2636.8,1498.7 2627.9,1526.8 2620.4,1545.7 2608.8,1527.1 2591,1539.8 2581.5,1565.3 2580.4,1582.6 2579.2,1599.9 2574.3,1627.6 2575.9,1643.3 2577.5,1659 2584,1675.5 2590.6,1692.1 2596.6,1706 2601.2,1730.9 2600.7,1748.2 2600.1,1765.6 2589.1,1793.9 2579.4,1810.4 2569.7,1826.8 2588.7,1824.9 2607.6,1823 2626.6,1821 2645.6,1818.9 2664.6,1816.8 2683.6,1814.7 2702.5,1812.5 2720.5,1810.9 2738.6,1809.2 2756.6,1807.5 2774.6,1805.7 2792.6,1803.9Z"/>
</g>
<defs><filter id="hb" x="-20%" y="-40%" width="140%" height="180%"><feGaussianBlur stdDeviation="1.3"/></filter></defs>
<g class="lab halo" opacity="0.5" fill="#fff" stroke="#fff" filter="url(#hb)">
<text transform="translate(480.0,1181) scale(0.888,1)">WA</text>
<text transform="translate(1122.5,1348) scale(1.015,1)">MT</text>
<text transform="translate(1686.6,1359) scale(0.948,1)">ND</text>
<text transform="translate(2050.0,1439) scale(1.040,1)">MN</text>
<text transform="translate(3627.1,1288) scale(0.953,1)">ME</text>
<text transform="translate(401.0,1488) scale(0.868,1)">OR</text>
<text transform="translate(742.6,1574) scale(0.907,1)">ID</text>
<text transform="translate(1689.0,1627) scale(0.889,1)">SD</text>
<text transform="translate(2361.3,1612) scale(0.930,1)">WI</text>
<text transform="translate(3522.0,1506) scale(0.958,1)">NH</text>
<text transform="translate(2674.5,1706) scale(1.050,1)">MI</text>
<text transform="translate(3565.4,1676) scale(0.890,1)">RI</text>
<text transform="translate(1208.9,1721) scale(0.867,1)">WY</text>
<text transform="translate(2124.6,1851) scale(0.961,1)">IA</text>
<text transform="translate(1705.6,1897) scale(0.939,1)">NE</text>
<text transform="translate(3178.7,1841) scale(0.948,1)">PA</text>
<text transform="translate(3390.5,1801) scale(1.007,1)">NJ</text>
<text transform="translate(554.2,1934) scale(0.947,1)">NV</text>
<text transform="translate(2423.4,2003) scale(1.022,1)">IL</text>
<text transform="translate(2625.5,2013) scale(1.050,1)">IN</text>
<text transform="translate(2839.4,1965) scale(0.951,1)">OH</text>
<text transform="translate(3259.1,1968) scale(0.940,1)">MD</text>
<text transform="translate(867.1,2028) scale(0.951,1)">UT</text>
<text transform="translate(1300.0,2091) scale(0.859,1)">CO</text>
<text transform="translate(3021.0,2066) scale(0.906,1)">WV</text>
<text transform="translate(3195.5,2121) scale(0.940,1)">VA</text>
<text transform="translate(1792.6,2173) scale(0.954,1)">KS</text>
<text transform="translate(2187.5,2186) scale(0.980,1)">MO</text>
<text transform="translate(2736.8,2202) scale(0.883,1)">KY</text>
<text transform="translate(3234.6,2334) scale(0.962,1)">NC</text>
<text transform="translate(2657.4,2381) scale(0.971,1)">TN</text>
<text transform="translate(816.5,2463) scale(0.975,1)">AZ</text>
<text transform="translate(1852.1,2449) scale(0.898,1)">OK</text>
<text transform="translate(1218.0,2499) scale(1.034,1)">NM</text>
<text transform="translate(2208.3,2507) scale(0.878,1)">AR</text>
<text transform="translate(3092.0,2512) scale(0.855,1)">SC</text>
<text transform="translate(2431.5,2662) scale(1.000,1)">MS</text>
<text transform="translate(2650.9,2656) scale(0.939,1)">AL</text>
<text transform="translate(2906.7,2648) scale(0.886,1)">GA</text>
<text transform="translate(2217.1,2780) scale(0.959,1)">LA</text>
<text transform="translate(3099.2,3009) scale(0.920,1)">FL</text>
<text transform="translate(352.5,2978) scale(0.920,1)">AK</text>
<text transform="translate(1244.5,3269) scale(0.997,1)">HI</text>
</g>
<g class="lab halo" opacity="0.55" fill="#28343a" stroke="#28343a" filter="url(#hb)">
<text transform="translate(3325.2,1577) scale(0.922,1)">NY</text>
<text transform="translate(294.7,2147) scale(0.897,1)">CA</text>
<text transform="translate(1754.0,2840) scale(0.944,1)">TX</text>
</g>
<g class="lab">
<text transform="translate(480.0,1181) scale(0.888,1)" fill="#1a1a1a">WA</text>
<text transform="translate(1122.5,1348) scale(1.015,1)" fill="#1a1a1a">MT</text>
<text transform="translate(1686.6,1359) scale(0.948,1)" fill="#1a1a1a">ND</text>
<text transform="translate(2050.0,1439) scale(1.040,1)" fill="#1a1a1a">MN</text>
<text transform="translate(3627.1,1288) scale(0.953,1)" fill="#1a1a1a">ME</text>
<text transform="translate(401.0,1488) scale(0.868,1)" fill="#1a1a1a">OR</text>
<text transform="translate(742.6,1574) scale(0.907,1)" fill="#1a1a1a">ID</text>
<text transform="translate(1689.0,1627) scale(0.889,1)" fill="#1a1a1a">SD</text>
<text transform="translate(2361.3,1612) scale(0.930,1)" fill="#1a1a1a">WI</text>
<text transform="translate(3522.0,1506) scale(0.958,1)" fill="#1a1a1a">NH</text>
<text transform="translate(3325.2,1577) scale(0.922,1)" fill="#f0fdfd">NY</text>
<text transform="translate(2674.5,1706) scale(1.050,1)" fill="#1a1a1a">MI</text>
<text transform="translate(3565.4,1676) scale(0.890,1)" fill="#1a1a1a">RI</text>
<text transform="translate(1208.9,1721) scale(0.867,1)" fill="#1a1a1a">WY</text>
<text transform="translate(2124.6,1851) scale(0.961,1)" fill="#1a1a1a">IA</text>
<text transform="translate(1705.6,1897) scale(0.939,1)" fill="#1a1a1a">NE</text>
<text transform="translate(3178.7,1841) scale(0.948,1)" fill="#1a1a1a">PA</text>
<text transform="translate(3390.5,1801) scale(1.007,1)" fill="#1a1a1a">NJ</text>
<text transform="translate(554.2,1934) scale(0.947,1)" fill="#1a1a1a">NV</text>
<text transform="translate(2423.4,2003) scale(1.022,1)" fill="#1a1a1a">IL</text>
<text transform="translate(2625.5,2013) scale(1.050,1)" fill="#1a1a1a">IN</text>
<text transform="translate(2839.4,1965) scale(0.951,1)" fill="#1a1a1a">OH</text>
<text transform="translate(3259.1,1968) scale(0.940,1)" fill="#1a1a1a">MD</text>
<text transform="translate(867.1,2028) scale(0.951,1)" fill="#1a1a1a">UT</text>
<text transform="translate(1300.0,2091) scale(0.859,1)" fill="#1a1a1a">CO</text>
<text transform="translate(3021.0,2066) scale(0.906,1)" fill="#1a1a1a">WV</text>
<text transform="translate(3195.5,2121) scale(0.940,1)" fill="#1a1a1a">VA</text>
<text transform="translate(294.7,2147) scale(0.897,1)" fill="#d3f5fb">CA</text>
<text transform="translate(1792.6,2173) scale(0.954,1)" fill="#1a1a1a">KS</text>
<text transform="translate(2187.5,2186) scale(0.980,1)" fill="#1a1a1a">MO</text>
<text transform="translate(2736.8,2202) scale(0.883,1)" fill="#1a1a1a">KY</text>
<text transform="translate(3234.6,2334) scale(0.962,1)" fill="#1a1a1a">NC</text>
<text transform="translate(2657.4,2381) scale(0.971,1)" fill="#1a1a1a">TN</text>
<text transform="translate(816.5,2463) scale(0.975,1)" fill="#1a1a1a">AZ</text>
<text transform="translate(1852.1,2449) scale(0.898,1)" fill="#1a1a1a">OK</text>
<text transform="translate(1218.0,2499) scale(1.034,1)" fill="#1a1a1a">NM</text>
<text transform="translate(2208.3,2507) scale(0.878,1)" fill="#1a1a1a">AR</text>
<text transform="translate(3092.0,2512) scale(0.855,1)" fill="#1a1a1a">SC</text>
<text transform="translate(2431.5,2662) scale(1.000,1)" fill="#1a1a1a">MS</text>
<text transform="translate(2650.9,2656) scale(0.939,1)" fill="#1a1a1a">AL</text>
<text transform="translate(2906.7,2648) scale(0.886,1)" fill="#1a1a1a">GA</text>
<text transform="translate(2217.1,2780) scale(0.959,1)" fill="#1a1a1a">LA</text>
<text transform="translate(1754.0,2840) scale(0.944,1)" fill="#effdfc">TX</text>
<text transform="translate(3099.2,3009) scale(0.920,1)" fill="#1a1a1a">FL</text>
<text transform="translate(352.5,2978) scale(0.920,1)" fill="#1a1a1a">AK</text>
<text transform="translate(1244.5,3269) scale(0.997,1)" fill="#1a1a1a">HI</text>
</g>
</svg>
<div class="t" id="note">Note: Data for Florida, Georgia, Idaho, Mississippi, New Hampshire, Rhode Island, North Dakota, and South Dakota<br>are unavailable.</div>
<div class="t" id="source">Source: BLS via Expertise.com</div>
</body></html>
